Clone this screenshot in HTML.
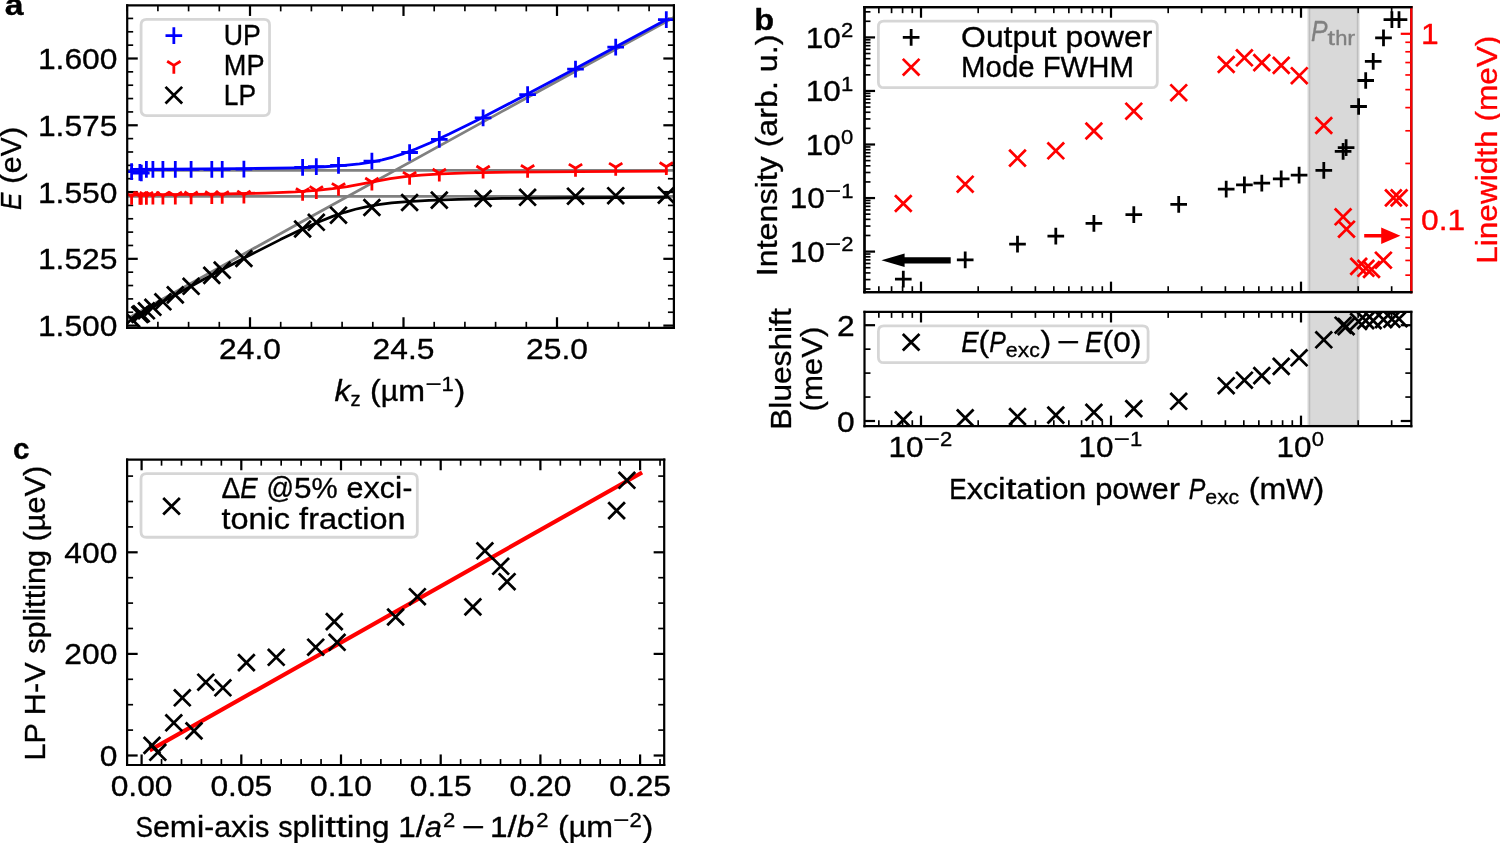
<!DOCTYPE html>
<html><head><meta charset="utf-8"><title>Figure</title>
<style>html,body{margin:0;padding:0;background:#fff;width:1500px;height:843px;overflow:hidden}svg{display:block;will-change:transform}text{font-family:"Liberation Sans",sans-serif;stroke:currentColor;stroke-width:0.12px}</style>
</head><body>
<svg width="1500" height="843" viewBox="0 0 540 303.48" version="1.1">
<defs>
<style type="text/css">*{stroke-linejoin: round; stroke-linecap: butt}</style>
</defs>
<g id="figure_1">
<g id="patch_1">
<path d="M 0 303.48 L 540 303.48 L 540 0 L 0 0 z
" style="fill: #ffffff; color: #ffffff"/>
</g>
<g id="axes_1">
<g id="patch_2">
<path d="M 45.792 118.008 L 242.604 118.008 L 242.604 1.944 L 45.792 1.944 z
" style="fill: #ffffff; color: #ffffff"/>
</g>
<g id="matplotlib.axis_1">
<g id="xtick_1">
<g id="line2d_1">
<defs>
<path id="m2b4970a3c0" d="M 0 0 L 0 -3.8 " style="stroke: #000000; stroke-width: 0.8"/>
</defs>
<g>
<use href="#m2b4970a3c0" x="90" y="118.008" style="stroke: #000000; stroke-width: 0.8"/>
</g>
</g>
<g id="line2d_2">
<defs>
<path id="m33ad5a67c3" d="M 0 0 L 0 3.8 " style="stroke: #000000; stroke-width: 0.8"/>
</defs>
<g>
<use href="#m33ad5a67c3" x="90" y="1.944" style="stroke: #000000; stroke-width: 0.8"/>
</g>
</g>
<g id="text_1">
<text style="font-size: 10.500px; font-family: 'Liberation Sans'; text-anchor: middle" textLength="22.266" lengthAdjust="spacingAndGlyphs" x="90" y="129.106437" transform="rotate(-0 90 129.106437)">24.0</text>
</g>
</g>
<g id="xtick_2">
<g id="line2d_3">
<g>
<use href="#m2b4970a3c0" x="145.26" y="118.008" style="stroke: #000000; stroke-width: 0.8"/>
</g>
</g>
<g id="line2d_4">
<g>
<use href="#m33ad5a67c3" x="145.26" y="1.944" style="stroke: #000000; stroke-width: 0.8"/>
</g>
</g>
<g id="text_2">
<text style="font-size: 10.500px; font-family: 'Liberation Sans'; text-anchor: middle" textLength="22.266" lengthAdjust="spacingAndGlyphs" x="145.26" y="129.106437" transform="rotate(-0 145.26 129.106437)">24.5</text>
</g>
</g>
<g id="xtick_3">
<g id="line2d_5">
<g>
<use href="#m2b4970a3c0" x="200.52" y="118.008" style="stroke: #000000; stroke-width: 0.8"/>
</g>
</g>
<g id="line2d_6">
<g>
<use href="#m33ad5a67c3" x="200.52" y="1.944" style="stroke: #000000; stroke-width: 0.8"/>
</g>
</g>
<g id="text_3">
<text style="font-size: 10.500px; font-family: 'Liberation Sans'; text-anchor: middle" textLength="22.266" lengthAdjust="spacingAndGlyphs" x="200.52" y="129.106437" transform="rotate(-0 200.52 129.106437)">25.0</text>
</g>
</g>
<g id="xtick_4">
<g id="line2d_7">
<defs>
<path id="mdb4b7853e7" d="M 0 0 L 0 -2.15 " style="stroke: #000000; stroke-width: 0.6"/>
</defs>
<g>
<use href="#mdb4b7853e7" x="45.792" y="118.008" style="stroke: #000000; stroke-width: 0.6"/>
</g>
</g>
<g id="line2d_8">
<defs>
<path id="m0a208b328b" d="M 0 0 L 0 2.15 " style="stroke: #000000; stroke-width: 0.6"/>
</defs>
<g>
<use href="#m0a208b328b" x="45.792" y="1.944" style="stroke: #000000; stroke-width: 0.6"/>
</g>
</g>
</g>
<g id="xtick_5">
<g id="line2d_9">
<g>
<use href="#mdb4b7853e7" x="56.844" y="118.008" style="stroke: #000000; stroke-width: 0.6"/>
</g>
</g>
<g id="line2d_10">
<g>
<use href="#m0a208b328b" x="56.844" y="1.944" style="stroke: #000000; stroke-width: 0.6"/>
</g>
</g>
</g>
<g id="xtick_6">
<g id="line2d_11">
<g>
<use href="#mdb4b7853e7" x="67.896" y="118.008" style="stroke: #000000; stroke-width: 0.6"/>
</g>
</g>
<g id="line2d_12">
<g>
<use href="#m0a208b328b" x="67.896" y="1.944" style="stroke: #000000; stroke-width: 0.6"/>
</g>
</g>
</g>
<g id="xtick_7">
<g id="line2d_13">
<g>
<use href="#mdb4b7853e7" x="78.948" y="118.008" style="stroke: #000000; stroke-width: 0.6"/>
</g>
</g>
<g id="line2d_14">
<g>
<use href="#m0a208b328b" x="78.948" y="1.944" style="stroke: #000000; stroke-width: 0.6"/>
</g>
</g>
</g>
<g id="xtick_8">
<g id="line2d_15">
<g>
<use href="#mdb4b7853e7" x="101.052" y="118.008" style="stroke: #000000; stroke-width: 0.6"/>
</g>
</g>
<g id="line2d_16">
<g>
<use href="#m0a208b328b" x="101.052" y="1.944" style="stroke: #000000; stroke-width: 0.6"/>
</g>
</g>
</g>
<g id="xtick_9">
<g id="line2d_17">
<g>
<use href="#mdb4b7853e7" x="112.104" y="118.008" style="stroke: #000000; stroke-width: 0.6"/>
</g>
</g>
<g id="line2d_18">
<g>
<use href="#m0a208b328b" x="112.104" y="1.944" style="stroke: #000000; stroke-width: 0.6"/>
</g>
</g>
</g>
<g id="xtick_10">
<g id="line2d_19">
<g>
<use href="#mdb4b7853e7" x="123.156" y="118.008" style="stroke: #000000; stroke-width: 0.6"/>
</g>
</g>
<g id="line2d_20">
<g>
<use href="#m0a208b328b" x="123.156" y="1.944" style="stroke: #000000; stroke-width: 0.6"/>
</g>
</g>
</g>
<g id="xtick_11">
<g id="line2d_21">
<g>
<use href="#mdb4b7853e7" x="134.208" y="118.008" style="stroke: #000000; stroke-width: 0.6"/>
</g>
</g>
<g id="line2d_22">
<g>
<use href="#m0a208b328b" x="134.208" y="1.944" style="stroke: #000000; stroke-width: 0.6"/>
</g>
</g>
</g>
<g id="xtick_12">
<g id="line2d_23">
<g>
<use href="#mdb4b7853e7" x="156.312" y="118.008" style="stroke: #000000; stroke-width: 0.6"/>
</g>
</g>
<g id="line2d_24">
<g>
<use href="#m0a208b328b" x="156.312" y="1.944" style="stroke: #000000; stroke-width: 0.6"/>
</g>
</g>
</g>
<g id="xtick_13">
<g id="line2d_25">
<g>
<use href="#mdb4b7853e7" x="167.364" y="118.008" style="stroke: #000000; stroke-width: 0.6"/>
</g>
</g>
<g id="line2d_26">
<g>
<use href="#m0a208b328b" x="167.364" y="1.944" style="stroke: #000000; stroke-width: 0.6"/>
</g>
</g>
</g>
<g id="xtick_14">
<g id="line2d_27">
<g>
<use href="#mdb4b7853e7" x="178.416" y="118.008" style="stroke: #000000; stroke-width: 0.6"/>
</g>
</g>
<g id="line2d_28">
<g>
<use href="#m0a208b328b" x="178.416" y="1.944" style="stroke: #000000; stroke-width: 0.6"/>
</g>
</g>
</g>
<g id="xtick_15">
<g id="line2d_29">
<g>
<use href="#mdb4b7853e7" x="189.468" y="118.008" style="stroke: #000000; stroke-width: 0.6"/>
</g>
</g>
<g id="line2d_30">
<g>
<use href="#m0a208b328b" x="189.468" y="1.944" style="stroke: #000000; stroke-width: 0.6"/>
</g>
</g>
</g>
<g id="xtick_16">
<g id="line2d_31">
<g>
<use href="#mdb4b7853e7" x="211.572" y="118.008" style="stroke: #000000; stroke-width: 0.6"/>
</g>
</g>
<g id="line2d_32">
<g>
<use href="#m0a208b328b" x="211.572" y="1.944" style="stroke: #000000; stroke-width: 0.6"/>
</g>
</g>
</g>
<g id="xtick_17">
<g id="line2d_33">
<g>
<use href="#mdb4b7853e7" x="222.624" y="118.008" style="stroke: #000000; stroke-width: 0.6"/>
</g>
</g>
<g id="line2d_34">
<g>
<use href="#m0a208b328b" x="222.624" y="1.944" style="stroke: #000000; stroke-width: 0.6"/>
</g>
</g>
</g>
<g id="xtick_18">
<g id="line2d_35">
<g>
<use href="#mdb4b7853e7" x="233.676" y="118.008" style="stroke: #000000; stroke-width: 0.6"/>
</g>
</g>
<g id="line2d_36">
<g>
<use href="#m0a208b328b" x="233.676" y="1.944" style="stroke: #000000; stroke-width: 0.6"/>
</g>
</g>
</g>
<g id="xlab_a" transform="translate(0.000 0.000)">
<g transform="translate(120.438 144.546125) scale(0.9910 1)">
<text>
<tspan x="0" y="-0.068438" style="font-style: italic; font-size: 10.500px; font-family: 'Liberation Sans'" textLength="5.791" lengthAdjust="spacingAndGlyphs">k</tspan>
<tspan x="5.791016" y="1.572187" style="font-size: 7.350px; font-family: 'Liberation Sans'" textLength="3.674" lengthAdjust="spacingAndGlyphs">z</tspan>
<tspan x="33.018066" y="-3.896563" style="font-size: 7.350px; font-family: 'Liberation Sans'" textLength="5.865" lengthAdjust="spacingAndGlyphs">−</tspan>
<tspan x="38.883301" y="-3.896563" style="font-size: 7.350px; font-family: 'Liberation Sans'" textLength="4.454" lengthAdjust="spacingAndGlyphs">1</tspan>
<tspan x="9.73877" y="-0.068438" style="font-size: 10.500px; font-family: 'Liberation Sans'"> </tspan>
<tspan x="12.91748" y="-0.068438" style="font-size: 10.500px; font-family: 'Liberation Sans'" textLength="3.901" lengthAdjust="spacingAndGlyphs">(</tspan>
<tspan x="16.818848" y="-0.068438" style="font-size: 10.500px; font-family: 'Liberation Sans'" textLength="6.362" lengthAdjust="spacingAndGlyphs">µ</tspan>
<tspan x="23.181152" y="-0.068438" style="font-size: 10.500px; font-family: 'Liberation Sans'" textLength="9.741" lengthAdjust="spacingAndGlyphs">m</tspan>
<tspan x="43.610352" y="-0.068438" style="font-size: 10.500px; font-family: 'Liberation Sans'" textLength="3.901" lengthAdjust="spacingAndGlyphs">)</tspan>
</text>
</g>
</g>
</g>
<g id="matplotlib.axis_2">
<g id="ytick_1">
<g id="line2d_37">
<defs>
<path id="m90c7cc0374" d="M 0 0 L 3.8 0 " style="stroke: #000000; stroke-width: 0.8"/>
</defs>
<g>
<use href="#m90c7cc0374" x="45.792" y="117.216" style="stroke: #000000; stroke-width: 0.8"/>
</g>
</g>
<g id="line2d_38">
<defs>
<path id="m5c0d456e2d" d="M 0 0 L -3.8 0 " style="stroke: #000000; stroke-width: 0.8"/>
</defs>
<g>
<use href="#m5c0d456e2d" x="242.604" y="117.216" style="stroke: #000000; stroke-width: 0.8"/>
</g>
</g>
<g id="text_4">
<text style="font-size: 10.500px; font-family: 'Liberation Sans'; text-anchor: end" textLength="28.628" lengthAdjust="spacingAndGlyphs" x="42.292" y="121.015219" transform="rotate(-0 42.292 121.015219)">1.500</text>
</g>
</g>
<g id="ytick_2">
<g id="line2d_39">
<g>
<use href="#m90c7cc0374" x="45.792" y="93.177" style="stroke: #000000; stroke-width: 0.8"/>
</g>
</g>
<g id="line2d_40">
<g>
<use href="#m5c0d456e2d" x="242.604" y="93.177" style="stroke: #000000; stroke-width: 0.8"/>
</g>
</g>
<g id="text_5">
<text style="font-size: 10.500px; font-family: 'Liberation Sans'; text-anchor: end" textLength="28.628" lengthAdjust="spacingAndGlyphs" x="42.292" y="96.976219" transform="rotate(-0 42.292 96.976219)">1.525</text>
</g>
</g>
<g id="ytick_3">
<g id="line2d_41">
<g>
<use href="#m90c7cc0374" x="45.792" y="69.138" style="stroke: #000000; stroke-width: 0.8"/>
</g>
</g>
<g id="line2d_42">
<g>
<use href="#m5c0d456e2d" x="242.604" y="69.138" style="stroke: #000000; stroke-width: 0.8"/>
</g>
</g>
<g id="text_6">
<text style="font-size: 10.500px; font-family: 'Liberation Sans'; text-anchor: end" textLength="28.628" lengthAdjust="spacingAndGlyphs" x="42.292" y="72.937219" transform="rotate(-0 42.292 72.937219)">1.550</text>
</g>
</g>
<g id="ytick_4">
<g id="line2d_43">
<g>
<use href="#m90c7cc0374" x="45.792" y="45.099" style="stroke: #000000; stroke-width: 0.8"/>
</g>
</g>
<g id="line2d_44">
<g>
<use href="#m5c0d456e2d" x="242.604" y="45.099" style="stroke: #000000; stroke-width: 0.8"/>
</g>
</g>
<g id="text_7">
<text style="font-size: 10.500px; font-family: 'Liberation Sans'; text-anchor: end" textLength="28.628" lengthAdjust="spacingAndGlyphs" x="42.292" y="48.898219" transform="rotate(-0 42.292 48.898219)">1.575</text>
</g>
</g>
<g id="ytick_5">
<g id="line2d_45">
<g>
<use href="#m90c7cc0374" x="45.792" y="21.06" style="stroke: #000000; stroke-width: 0.8"/>
</g>
</g>
<g id="line2d_46">
<g>
<use href="#m5c0d456e2d" x="242.604" y="21.06" style="stroke: #000000; stroke-width: 0.8"/>
</g>
</g>
<g id="text_8">
<text style="font-size: 10.500px; font-family: 'Liberation Sans'; text-anchor: end" textLength="28.628" lengthAdjust="spacingAndGlyphs" x="42.292" y="24.859219" transform="rotate(-0 42.292 24.859219)">1.600</text>
</g>
</g>
<g id="ytick_6">
<g id="line2d_47">
<defs>
<path id="m56da8a8c78" d="M 0 0 L 2.15 0 " style="stroke: #000000; stroke-width: 0.6"/>
</defs>
<g>
<use href="#m56da8a8c78" x="45.792" y="112.4082" style="stroke: #000000; stroke-width: 0.6"/>
</g>
</g>
<g id="line2d_48">
<defs>
<path id="m1119887b76" d="M 0 0 L -2.15 0 " style="stroke: #000000; stroke-width: 0.6"/>
</defs>
<g>
<use href="#m1119887b76" x="242.604" y="112.4082" style="stroke: #000000; stroke-width: 0.6"/>
</g>
</g>
</g>
<g id="ytick_7">
<g id="line2d_49">
<g>
<use href="#m56da8a8c78" x="45.792" y="107.6004" style="stroke: #000000; stroke-width: 0.6"/>
</g>
</g>
<g id="line2d_50">
<g>
<use href="#m1119887b76" x="242.604" y="107.6004" style="stroke: #000000; stroke-width: 0.6"/>
</g>
</g>
</g>
<g id="ytick_8">
<g id="line2d_51">
<g>
<use href="#m56da8a8c78" x="45.792" y="102.7926" style="stroke: #000000; stroke-width: 0.6"/>
</g>
</g>
<g id="line2d_52">
<g>
<use href="#m1119887b76" x="242.604" y="102.7926" style="stroke: #000000; stroke-width: 0.6"/>
</g>
</g>
</g>
<g id="ytick_9">
<g id="line2d_53">
<g>
<use href="#m56da8a8c78" x="45.792" y="97.9848" style="stroke: #000000; stroke-width: 0.6"/>
</g>
</g>
<g id="line2d_54">
<g>
<use href="#m1119887b76" x="242.604" y="97.9848" style="stroke: #000000; stroke-width: 0.6"/>
</g>
</g>
</g>
<g id="ytick_10">
<g id="line2d_55">
<g>
<use href="#m56da8a8c78" x="45.792" y="88.3692" style="stroke: #000000; stroke-width: 0.6"/>
</g>
</g>
<g id="line2d_56">
<g>
<use href="#m1119887b76" x="242.604" y="88.3692" style="stroke: #000000; stroke-width: 0.6"/>
</g>
</g>
</g>
<g id="ytick_11">
<g id="line2d_57">
<g>
<use href="#m56da8a8c78" x="45.792" y="83.5614" style="stroke: #000000; stroke-width: 0.6"/>
</g>
</g>
<g id="line2d_58">
<g>
<use href="#m1119887b76" x="242.604" y="83.5614" style="stroke: #000000; stroke-width: 0.6"/>
</g>
</g>
</g>
<g id="ytick_12">
<g id="line2d_59">
<g>
<use href="#m56da8a8c78" x="45.792" y="78.7536" style="stroke: #000000; stroke-width: 0.6"/>
</g>
</g>
<g id="line2d_60">
<g>
<use href="#m1119887b76" x="242.604" y="78.7536" style="stroke: #000000; stroke-width: 0.6"/>
</g>
</g>
</g>
<g id="ytick_13">
<g id="line2d_61">
<g>
<use href="#m56da8a8c78" x="45.792" y="73.9458" style="stroke: #000000; stroke-width: 0.6"/>
</g>
</g>
<g id="line2d_62">
<g>
<use href="#m1119887b76" x="242.604" y="73.9458" style="stroke: #000000; stroke-width: 0.6"/>
</g>
</g>
</g>
<g id="ytick_14">
<g id="line2d_63">
<g>
<use href="#m56da8a8c78" x="45.792" y="64.3302" style="stroke: #000000; stroke-width: 0.6"/>
</g>
</g>
<g id="line2d_64">
<g>
<use href="#m1119887b76" x="242.604" y="64.3302" style="stroke: #000000; stroke-width: 0.6"/>
</g>
</g>
</g>
<g id="ytick_15">
<g id="line2d_65">
<g>
<use href="#m56da8a8c78" x="45.792" y="59.5224" style="stroke: #000000; stroke-width: 0.6"/>
</g>
</g>
<g id="line2d_66">
<g>
<use href="#m1119887b76" x="242.604" y="59.5224" style="stroke: #000000; stroke-width: 0.6"/>
</g>
</g>
</g>
<g id="ytick_16">
<g id="line2d_67">
<g>
<use href="#m56da8a8c78" x="45.792" y="54.7146" style="stroke: #000000; stroke-width: 0.6"/>
</g>
</g>
<g id="line2d_68">
<g>
<use href="#m1119887b76" x="242.604" y="54.7146" style="stroke: #000000; stroke-width: 0.6"/>
</g>
</g>
</g>
<g id="ytick_17">
<g id="line2d_69">
<g>
<use href="#m56da8a8c78" x="45.792" y="49.9068" style="stroke: #000000; stroke-width: 0.6"/>
</g>
</g>
<g id="line2d_70">
<g>
<use href="#m1119887b76" x="242.604" y="49.9068" style="stroke: #000000; stroke-width: 0.6"/>
</g>
</g>
</g>
<g id="ytick_18">
<g id="line2d_71">
<g>
<use href="#m56da8a8c78" x="45.792" y="40.2912" style="stroke: #000000; stroke-width: 0.6"/>
</g>
</g>
<g id="line2d_72">
<g>
<use href="#m1119887b76" x="242.604" y="40.2912" style="stroke: #000000; stroke-width: 0.6"/>
</g>
</g>
</g>
<g id="ytick_19">
<g id="line2d_73">
<g>
<use href="#m56da8a8c78" x="45.792" y="35.4834" style="stroke: #000000; stroke-width: 0.6"/>
</g>
</g>
<g id="line2d_74">
<g>
<use href="#m1119887b76" x="242.604" y="35.4834" style="stroke: #000000; stroke-width: 0.6"/>
</g>
</g>
</g>
<g id="ytick_20">
<g id="line2d_75">
<g>
<use href="#m56da8a8c78" x="45.792" y="30.6756" style="stroke: #000000; stroke-width: 0.6"/>
</g>
</g>
<g id="line2d_76">
<g>
<use href="#m1119887b76" x="242.604" y="30.6756" style="stroke: #000000; stroke-width: 0.6"/>
</g>
</g>
</g>
<g id="ytick_21">
<g id="line2d_77">
<g>
<use href="#m56da8a8c78" x="45.792" y="25.8678" style="stroke: #000000; stroke-width: 0.6"/>
</g>
</g>
<g id="line2d_78">
<g>
<use href="#m1119887b76" x="242.604" y="25.8678" style="stroke: #000000; stroke-width: 0.6"/>
</g>
</g>
</g>
<g id="ytick_22">
<g id="line2d_79">
<g>
<use href="#m56da8a8c78" x="45.792" y="16.2522" style="stroke: #000000; stroke-width: 0.6"/>
</g>
</g>
<g id="line2d_80">
<g>
<use href="#m1119887b76" x="242.604" y="16.2522" style="stroke: #000000; stroke-width: 0.6"/>
</g>
</g>
</g>
<g id="ytick_23">
<g id="line2d_81">
<g>
<use href="#m56da8a8c78" x="45.792" y="11.4444" style="stroke: #000000; stroke-width: 0.6"/>
</g>
</g>
<g id="line2d_82">
<g>
<use href="#m1119887b76" x="242.604" y="11.4444" style="stroke: #000000; stroke-width: 0.6"/>
</g>
</g>
</g>
<g id="ytick_24">
<g id="line2d_83">
<g>
<use href="#m56da8a8c78" x="45.792" y="6.6366" style="stroke: #000000; stroke-width: 0.6"/>
</g>
</g>
<g id="line2d_84">
<g>
<use href="#m1119887b76" x="242.604" y="6.6366" style="stroke: #000000; stroke-width: 0.6"/>
</g>
</g>
</g>
<g id="ylab_a" transform="translate(0.000 0.360)">
<g transform="translate(7.584187 75.276) rotate(-90) scale(0.9910 1)">
<text>
<tspan x="0" y="-0.0125" style="font-style: italic; font-size: 10.500px; font-family: 'Liberation Sans'" textLength="6.318" lengthAdjust="spacingAndGlyphs">E</tspan>
<tspan x="6.318359" y="-0.0125" style="font-size: 10.500px; font-family: 'Liberation Sans'"> </tspan>
<tspan x="9.49707" y="-0.0125" style="font-size: 10.500px; font-family: 'Liberation Sans'" textLength="3.901" lengthAdjust="spacingAndGlyphs">(</tspan>
<tspan x="13.398438" y="-0.0125" style="font-size: 10.500px; font-family: 'Liberation Sans'" textLength="6.152" lengthAdjust="spacingAndGlyphs">e</tspan>
<tspan x="19.550781" y="-0.0125" style="font-size: 10.500px; font-family: 'Liberation Sans'" textLength="6.841" lengthAdjust="spacingAndGlyphs">V</tspan>
<tspan x="26.391602" y="-0.0125" style="font-size: 10.500px; font-family: 'Liberation Sans'" textLength="3.901" lengthAdjust="spacingAndGlyphs">)</tspan>
</text>
</g>
</g>
</g>
<g id="line2d_85">
<path d="M 45.792 114.70382 L 113.369053 77.222195 L 180.946105 39.996219 L 242.604 6.253952 L 242.604 6.253952 " clip-path="url(#p38f2d5e0b5)" style="fill: none; stroke: #808080; stroke-linecap: square"/>
</g>
<g id="line2d_86">
<path d="M 45.792 61.326 L 242.604 61.326 " clip-path="url(#p38f2d5e0b5)" style="fill: none; stroke: #808080; stroke-linecap: square"/>
</g>
<g id="line2d_87">
<path d="M 45.792 70.668 L 242.604 70.668 " clip-path="url(#p38f2d5e0b5)" style="fill: none; stroke: #808080; stroke-linecap: square"/>
</g>
<g id="line2d_88">
<path d="M 47.376 60.988989 L 87.418195 60.730166 L 106.233203 60.407631 L 116.846797 60.028611 L 124.083338 59.566068 L 129.390135 59.020406 L 133.73206 58.364208 L 137.591549 57.567059 L 141.451038 56.538877 L 145.310526 55.283185 L 149.652451 53.638198 L 154.959248 51.377546 L 161.713353 48.238306 L 170.879639 43.705639 L 183.905414 36.988984 L 204.167729 26.259407 L 239.868 7.070971 L 239.868 7.070971 " clip-path="url(#p38f2d5e0b5)" style="fill: none; stroke: #0000ff; stroke-linecap: square"/>
</g>
<g id="line2d_89">
<path d="M 47.376 70.16246 L 78.734346 69.860336 L 95.619609 69.49404 L 106.233203 69.057574 L 113.95218 68.522368 L 119.741414 67.914042 L 125.048211 67.146805 L 131.31988 66.003462 L 140.486165 64.314927 L 145.792962 63.58862 L 151.582195 63.039927 L 158.818737 62.604002 L 168.467459 62.26264 L 183.422977 61.980067 L 208.509654 61.756924 L 239.868 61.627315 L 239.868 61.627315 " clip-path="url(#p38f2d5e0b5)" style="fill: none; stroke: #ff0000; stroke-linecap: square"/>
</g>
<g id="line2d_90">
<path d="M 47.376 114.66488 L 73.427549 100.54955 L 89.830376 91.891032 L 100.926406 86.263749 L 108.645383 82.570361 L 114.917053 79.807895 L 119.741414 77.908866 L 124.083338 76.428945 L 127.942827 75.329808 L 131.802316 74.443128 L 136.144241 73.67857 L 140.968602 73.062078 L 146.757835 72.550927 L 154.476812 72.109551 L 165.090406 71.7446 L 181.010797 71.441316 L 207.062346 71.194215 L 239.868 71.04243 L 239.868 71.04243 " clip-path="url(#p38f2d5e0b5)" style="fill: none; stroke: #000000; stroke-linecap: square"/>
</g>
<g id="line2d_91">
<defs>
<path id="mb867c7d9d2" d="M -3 0 L 3 0 M 0 3 L 0 -3 " style="stroke: #0000ff"/>
</defs>
<g clip-path="url(#p38f2d5e0b5)">
<use href="#mb867c7d9d2" x="47.376" y="61.776" style="fill: #0000ff; stroke: #0000ff; color: #0000ff"/>
<use href="#mb867c7d9d2" x="50.364" y="62.064" style="fill: #0000ff; stroke: #0000ff; color: #0000ff"/>
<use href="#mb867c7d9d2" x="50.868" y="62.28" style="fill: #0000ff; stroke: #0000ff; color: #0000ff"/>
<use href="#mb867c7d9d2" x="52.704" y="60.948" style="fill: #0000ff; stroke: #0000ff; color: #0000ff"/>
<use href="#mb867c7d9d2" x="55.044" y="60.984" style="fill: #0000ff; stroke: #0000ff; color: #0000ff"/>
<use href="#mb867c7d9d2" x="58.644" y="60.984" style="fill: #0000ff; stroke: #0000ff; color: #0000ff"/>
<use href="#mb867c7d9d2" x="63.108" y="60.984" style="fill: #0000ff; stroke: #0000ff; color: #0000ff"/>
<use href="#mb867c7d9d2" x="68.796" y="60.984" style="fill: #0000ff; stroke: #0000ff; color: #0000ff"/>
<use href="#mb867c7d9d2" x="76.248" y="60.984" style="fill: #0000ff; stroke: #0000ff; color: #0000ff"/>
<use href="#mb867c7d9d2" x="79.992" y="60.948" style="fill: #0000ff; stroke: #0000ff; color: #0000ff"/>
<use href="#mb867c7d9d2" x="87.804" y="60.912" style="fill: #0000ff; stroke: #0000ff; color: #0000ff"/>
<use href="#mb867c7d9d2" x="108.936" y="60.264" style="fill: #0000ff; stroke: #0000ff; color: #0000ff"/>
<use href="#mb867c7d9d2" x="113.868" y="59.976" style="fill: #0000ff; stroke: #0000ff; color: #0000ff"/>
<use href="#mb867c7d9d2" x="121.86" y="59.544" style="fill: #0000ff; stroke: #0000ff; color: #0000ff"/>
<use href="#mb867c7d9d2" x="133.884" y="58.032" style="fill: #0000ff; stroke: #0000ff; color: #0000ff"/>
<use href="#mb867c7d9d2" x="147.456" y="54.9" style="fill: #0000ff; stroke: #0000ff; color: #0000ff"/>
<use href="#mb867c7d9d2" x="158.148" y="50.184" style="fill: #0000ff; stroke: #0000ff; color: #0000ff"/>
<use href="#mb867c7d9d2" x="173.916" y="42.444" style="fill: #0000ff; stroke: #0000ff; color: #0000ff"/>
<use href="#mb867c7d9d2" x="189.936" y="34.056" style="fill: #0000ff; stroke: #0000ff; color: #0000ff"/>
<use href="#mb867c7d9d2" x="207.18" y="24.912" style="fill: #0000ff; stroke: #0000ff; color: #0000ff"/>
<use href="#mb867c7d9d2" x="221.652" y="16.956" style="fill: #0000ff; stroke: #0000ff; color: #0000ff"/>
<use href="#mb867c7d9d2" x="239.868" y="7.056" style="fill: #0000ff; stroke: #0000ff; color: #0000ff"/>
</g>
</g>
<g id="line2d_92">
<defs>
<path id="mb16a404aa3" d="M 0 0 L 0 3 M 0 0 L 2.4 -1.5 M 0 0 L -2.4 -1.5 " style="stroke: #ff0000"/>
</defs>
<g clip-path="url(#p38f2d5e0b5)">
<use href="#mb16a404aa3" x="47.376" y="70.70246" style="fill: #ff0000; stroke: #ff0000; color: #ff0000"/>
<use href="#mb16a404aa3" x="50.364" y="70.683599" style="fill: #ff0000; stroke: #ff0000; color: #ff0000"/>
<use href="#mb16a404aa3" x="50.868" y="70.680281" style="fill: #ff0000; stroke: #ff0000; color: #ff0000"/>
<use href="#mb16a404aa3" x="52.704" y="70.667837" style="fill: #ff0000; stroke: #ff0000; color: #ff0000"/>
<use href="#mb16a404aa3" x="55.044" y="70.651117" style="fill: #ff0000; stroke: #ff0000; color: #ff0000"/>
<use href="#mb16a404aa3" x="58.644" y="70.62332" style="fill: #ff0000; stroke: #ff0000; color: #ff0000"/>
<use href="#mb16a404aa3" x="63.108" y="70.584844" style="fill: #ff0000; stroke: #ff0000; color: #ff0000"/>
<use href="#mb16a404aa3" x="68.796" y="70.528035" style="fill: #ff0000; stroke: #ff0000; color: #ff0000"/>
<use href="#mb16a404aa3" x="76.248" y="70.436433" style="fill: #ff0000; stroke: #ff0000; color: #ff0000"/>
<use href="#mb16a404aa3" x="79.992" y="70.380811" style="fill: #ff0000; stroke: #ff0000; color: #ff0000"/>
<use href="#mb16a404aa3" x="87.804" y="70.235953" style="fill: #ff0000; stroke: #ff0000; color: #ff0000"/>
<use href="#mb16a404aa3" x="108.936" y="69.3" style="fill: #ff0000; stroke: #ff0000; color: #ff0000"/>
<use href="#mb16a404aa3" x="113.868" y="68.616" style="fill: #ff0000; stroke: #ff0000; color: #ff0000"/>
<use href="#mb16a404aa3" x="121.86" y="67.5" style="fill: #ff0000; stroke: #ff0000; color: #ff0000"/>
<use href="#mb16a404aa3" x="133.884" y="65.592" style="fill: #ff0000; stroke: #ff0000; color: #ff0000"/>
<use href="#mb16a404aa3" x="147.456" y="63.468" style="fill: #ff0000; stroke: #ff0000; color: #ff0000"/>
<use href="#mb16a404aa3" x="158.148" y="62.352" style="fill: #ff0000; stroke: #ff0000; color: #ff0000"/>
<use href="#mb16a404aa3" x="173.916" y="61.272" style="fill: #ff0000; stroke: #ff0000; color: #ff0000"/>
<use href="#mb16a404aa3" x="189.936" y="60.984" style="fill: #ff0000; stroke: #ff0000; color: #ff0000"/>
<use href="#mb16a404aa3" x="207.18" y="60.588" style="fill: #ff0000; stroke: #ff0000; color: #ff0000"/>
<use href="#mb16a404aa3" x="221.652" y="60.228" style="fill: #ff0000; stroke: #ff0000; color: #ff0000"/>
<use href="#mb16a404aa3" x="239.868" y="60.012" style="fill: #ff0000; stroke: #ff0000; color: #ff0000"/>
</g>
</g>
<g id="line2d_93">
<defs>
<path id="m25b837ac0a" d="M -3 3 L 3 -3 M -3 -3 L 3 3 " style="stroke: #000000"/>
</defs>
<g clip-path="url(#p38f2d5e0b5)">
<use href="#m25b837ac0a" x="47.376" y="114.84" style="stroke: #000000"/>
<use href="#m25b837ac0a" x="50.364" y="113.22" style="stroke: #000000"/>
<use href="#m25b837ac0a" x="50.868" y="112.968" style="stroke: #000000"/>
<use href="#m25b837ac0a" x="52.704" y="111.888" style="stroke: #000000"/>
<use href="#m25b837ac0a" x="55.044" y="110.628" style="stroke: #000000"/>
<use href="#m25b837ac0a" x="58.644" y="108.648" style="stroke: #000000"/>
<use href="#m25b837ac0a" x="63.108" y="106.164" style="stroke: #000000"/>
<use href="#m25b837ac0a" x="68.796" y="103.068" style="stroke: #000000"/>
<use href="#m25b837ac0a" x="76.248" y="99.144" style="stroke: #000000"/>
<use href="#m25b837ac0a" x="79.992" y="97.236" style="stroke: #000000"/>
<use href="#m25b837ac0a" x="87.804" y="93.06" style="stroke: #000000"/>
<use href="#m25b837ac0a" x="108.936" y="82.44" style="stroke: #000000"/>
<use href="#m25b837ac0a" x="113.868" y="80.028" style="stroke: #000000"/>
<use href="#m25b837ac0a" x="121.86" y="77.472" style="stroke: #000000"/>
<use href="#m25b837ac0a" x="133.884" y="74.7" style="stroke: #000000"/>
<use href="#m25b837ac0a" x="147.456" y="72.9" style="stroke: #000000"/>
<use href="#m25b837ac0a" x="158.148" y="72.036" style="stroke: #000000"/>
<use href="#m25b837ac0a" x="173.916" y="71.46" style="stroke: #000000"/>
<use href="#m25b837ac0a" x="189.936" y="71.028" style="stroke: #000000"/>
<use href="#m25b837ac0a" x="207.18" y="70.632" style="stroke: #000000"/>
<use href="#m25b837ac0a" x="221.652" y="70.452" style="stroke: #000000"/>
<use href="#m25b837ac0a" x="239.868" y="70.272" style="stroke: #000000"/>
</g>
</g>
<g id="patch_3">
<path d="M 45.792 118.008 L 45.792 1.944 " style="fill: none; stroke: #000000; stroke-width: 0.8; stroke-linejoin: miter; stroke-linecap: square"/>
</g>
<g id="patch_4">
<path d="M 242.604 118.008 L 242.604 1.944 " style="fill: none; stroke: #000000; stroke-width: 0.8; stroke-linejoin: miter; stroke-linecap: square"/>
</g>
<g id="patch_5">
<path d="M 45.792 118.008 L 242.604 118.008 " style="fill: none; stroke: #000000; stroke-width: 0.8; stroke-linejoin: miter; stroke-linecap: square"/>
</g>
<g id="patch_6">
<path d="M 45.792 1.944 L 242.604 1.944 " style="fill: none; stroke: #000000; stroke-width: 0.8; stroke-linejoin: miter; stroke-linecap: square"/>
</g>
<g id="legend_1">
<g id="patch_7">
<path d="M 52.792 41.638375 L 95.029812 41.638375 Q 97.029812 41.638375 97.029812 39.638375 L 97.029812 8.944 Q 97.029812 6.944 95.029812 6.944 L 52.792 6.944 Q 50.792 6.944 50.792 8.944 L 50.792 39.638375 Q 50.792 41.638375 52.792 41.638375 z
" style="fill: #ffffff; fill-opacity: 0.8; stroke-opacity: 0.8; stroke: #cccccc; stroke-linejoin: miter; color: #ffffff"/>
</g>
<g id="line2d_94">
<g>
<use href="#mb867c7d9d2" x="62.582" y="12.832437" style="fill: #0000ff; stroke: #0000ff; color: #0000ff"/>
</g>
</g>
<g id="text_9">
<text style="font-size: 10.500px; font-family: 'Liberation Sans'; text-anchor: start" textLength="13.350" lengthAdjust="spacingAndGlyphs" x="80.582" y="16.332437" transform="rotate(-0 80.582 16.332437)">UP</text>
</g>
<g id="line2d_95">
<g>
<use href="#mb16a404aa3" x="62.582" y="23.550562" style="fill: #ff0000; stroke: #ff0000; color: #ff0000"/>
</g>
</g>
<g id="text_10">
<text style="font-size: 10.500px; font-family: 'Liberation Sans'; text-anchor: start" textLength="14.658" lengthAdjust="spacingAndGlyphs" x="80.582" y="27.050562" transform="rotate(-0 80.582 27.050562)">MP</text>
</g>
<g id="line2d_96">
<g>
<use href="#m25b837ac0a" x="62.582" y="34.268687" style="stroke: #000000"/>
</g>
</g>
<g id="text_11">
<text style="font-size: 10.500px; font-family: 'Liberation Sans'; text-anchor: start" textLength="11.602" lengthAdjust="spacingAndGlyphs" x="80.582" y="37.768687" transform="rotate(-0 80.582 37.768687)">LP</text>
</g>
</g>
</g>
<g id="axes_2">
<g id="patch_8">
<path d="M 311.22 105.192 L 508.068 105.192 L 508.068 2.592 L 311.22 2.592 z
" style="fill: #ffffff; color: #ffffff"/>
</g>
<g id="patch_9">
<path d="M 471.19126 105.192 L 488.950452 105.192 L 488.950452 2.592 L 471.19126 2.592 z
" clip-path="url(#pccb7312ba0)" style="fill: #808080; fill-opacity: 0.3; stroke-opacity: 0.3; stroke: #808080; stroke-linejoin: miter; color: #808080"/>
</g>
<g id="matplotlib.axis_3">
<g id="xtick_19">
<g id="line2d_97">
<g>
<use href="#m2b4970a3c0" x="331.56" y="105.192" style="stroke: #000000; stroke-width: 0.8"/>
</g>
</g>
<g id="line2d_98">
<g>
<use href="#m33ad5a67c3" x="331.56" y="2.592" style="stroke: #000000; stroke-width: 0.8"/>
</g>
</g>
</g>
<g id="xtick_20">
<g id="line2d_99">
<g>
<use href="#m2b4970a3c0" x="399.96" y="105.192" style="stroke: #000000; stroke-width: 0.8"/>
</g>
</g>
<g id="line2d_100">
<g>
<use href="#m33ad5a67c3" x="399.96" y="2.592" style="stroke: #000000; stroke-width: 0.8"/>
</g>
</g>
</g>
<g id="xtick_21">
<g id="line2d_101">
<g>
<use href="#m2b4970a3c0" x="468.36" y="105.192" style="stroke: #000000; stroke-width: 0.8"/>
</g>
</g>
<g id="line2d_102">
<g>
<use href="#m33ad5a67c3" x="468.36" y="2.592" style="stroke: #000000; stroke-width: 0.8"/>
</g>
</g>
</g>
<g id="xtick_22">
<g id="line2d_103">
<g>
<use href="#mdb4b7853e7" x="316.385546" y="105.192" style="stroke: #000000; stroke-width: 0.6"/>
</g>
</g>
<g id="line2d_104">
<g>
<use href="#m0a208b328b" x="316.385546" y="2.592" style="stroke: #000000; stroke-width: 0.6"/>
</g>
</g>
</g>
<g id="xtick_23">
<g id="line2d_105">
<g>
<use href="#mdb4b7853e7" x="320.964706" y="105.192" style="stroke: #000000; stroke-width: 0.6"/>
</g>
</g>
<g id="line2d_106">
<g>
<use href="#m0a208b328b" x="320.964706" y="2.592" style="stroke: #000000; stroke-width: 0.6"/>
</g>
</g>
</g>
<g id="xtick_24">
<g id="line2d_107">
<g>
<use href="#mdb4b7853e7" x="324.931355" y="105.192" style="stroke: #000000; stroke-width: 0.6"/>
</g>
</g>
<g id="line2d_108">
<g>
<use href="#m0a208b328b" x="324.931355" y="2.592" style="stroke: #000000; stroke-width: 0.6"/>
</g>
</g>
</g>
<g id="xtick_25">
<g id="line2d_109">
<g>
<use href="#mdb4b7853e7" x="328.430188" y="105.192" style="stroke: #000000; stroke-width: 0.6"/>
</g>
</g>
<g id="line2d_110">
<g>
<use href="#m0a208b328b" x="328.430188" y="2.592" style="stroke: #000000; stroke-width: 0.6"/>
</g>
</g>
</g>
<g id="xtick_26">
<g id="line2d_111">
<g>
<use href="#mdb4b7853e7" x="352.150452" y="105.192" style="stroke: #000000; stroke-width: 0.6"/>
</g>
</g>
<g id="line2d_112">
<g>
<use href="#m0a208b328b" x="352.150452" y="2.592" style="stroke: #000000; stroke-width: 0.6"/>
</g>
</g>
</g>
<g id="xtick_27">
<g id="line2d_113">
<g>
<use href="#mdb4b7853e7" x="364.195094" y="105.192" style="stroke: #000000; stroke-width: 0.6"/>
</g>
</g>
<g id="line2d_114">
<g>
<use href="#m0a208b328b" x="364.195094" y="2.592" style="stroke: #000000; stroke-width: 0.6"/>
</g>
</g>
</g>
<g id="xtick_28">
<g id="line2d_115">
<g>
<use href="#mdb4b7853e7" x="372.740903" y="105.192" style="stroke: #000000; stroke-width: 0.6"/>
</g>
</g>
<g id="line2d_116">
<g>
<use href="#m0a208b328b" x="372.740903" y="2.592" style="stroke: #000000; stroke-width: 0.6"/>
</g>
</g>
</g>
<g id="xtick_29">
<g id="line2d_117">
<g>
<use href="#mdb4b7853e7" x="379.369548" y="105.192" style="stroke: #000000; stroke-width: 0.6"/>
</g>
</g>
<g id="line2d_118">
<g>
<use href="#m0a208b328b" x="379.369548" y="2.592" style="stroke: #000000; stroke-width: 0.6"/>
</g>
</g>
</g>
<g id="xtick_30">
<g id="line2d_119">
<g>
<use href="#mdb4b7853e7" x="384.785546" y="105.192" style="stroke: #000000; stroke-width: 0.6"/>
</g>
</g>
<g id="line2d_120">
<g>
<use href="#m0a208b328b" x="384.785546" y="2.592" style="stroke: #000000; stroke-width: 0.6"/>
</g>
</g>
</g>
<g id="xtick_31">
<g id="line2d_121">
<g>
<use href="#mdb4b7853e7" x="389.364706" y="105.192" style="stroke: #000000; stroke-width: 0.6"/>
</g>
</g>
<g id="line2d_122">
<g>
<use href="#m0a208b328b" x="389.364706" y="2.592" style="stroke: #000000; stroke-width: 0.6"/>
</g>
</g>
</g>
<g id="xtick_32">
<g id="line2d_123">
<g>
<use href="#mdb4b7853e7" x="393.331355" y="105.192" style="stroke: #000000; stroke-width: 0.6"/>
</g>
</g>
<g id="line2d_124">
<g>
<use href="#m0a208b328b" x="393.331355" y="2.592" style="stroke: #000000; stroke-width: 0.6"/>
</g>
</g>
</g>
<g id="xtick_33">
<g id="line2d_125">
<g>
<use href="#mdb4b7853e7" x="396.830188" y="105.192" style="stroke: #000000; stroke-width: 0.6"/>
</g>
</g>
<g id="line2d_126">
<g>
<use href="#m0a208b328b" x="396.830188" y="2.592" style="stroke: #000000; stroke-width: 0.6"/>
</g>
</g>
</g>
<g id="xtick_34">
<g id="line2d_127">
<g>
<use href="#mdb4b7853e7" x="420.550452" y="105.192" style="stroke: #000000; stroke-width: 0.6"/>
</g>
</g>
<g id="line2d_128">
<g>
<use href="#m0a208b328b" x="420.550452" y="2.592" style="stroke: #000000; stroke-width: 0.6"/>
</g>
</g>
</g>
<g id="xtick_35">
<g id="line2d_129">
<g>
<use href="#mdb4b7853e7" x="432.595094" y="105.192" style="stroke: #000000; stroke-width: 0.6"/>
</g>
</g>
<g id="line2d_130">
<g>
<use href="#m0a208b328b" x="432.595094" y="2.592" style="stroke: #000000; stroke-width: 0.6"/>
</g>
</g>
</g>
<g id="xtick_36">
<g id="line2d_131">
<g>
<use href="#mdb4b7853e7" x="441.140903" y="105.192" style="stroke: #000000; stroke-width: 0.6"/>
</g>
</g>
<g id="line2d_132">
<g>
<use href="#m0a208b328b" x="441.140903" y="2.592" style="stroke: #000000; stroke-width: 0.6"/>
</g>
</g>
</g>
<g id="xtick_37">
<g id="line2d_133">
<g>
<use href="#mdb4b7853e7" x="447.769548" y="105.192" style="stroke: #000000; stroke-width: 0.6"/>
</g>
</g>
<g id="line2d_134">
<g>
<use href="#m0a208b328b" x="447.769548" y="2.592" style="stroke: #000000; stroke-width: 0.6"/>
</g>
</g>
</g>
<g id="xtick_38">
<g id="line2d_135">
<g>
<use href="#mdb4b7853e7" x="453.185546" y="105.192" style="stroke: #000000; stroke-width: 0.6"/>
</g>
</g>
<g id="line2d_136">
<g>
<use href="#m0a208b328b" x="453.185546" y="2.592" style="stroke: #000000; stroke-width: 0.6"/>
</g>
</g>
</g>
<g id="xtick_39">
<g id="line2d_137">
<g>
<use href="#mdb4b7853e7" x="457.764706" y="105.192" style="stroke: #000000; stroke-width: 0.6"/>
</g>
</g>
<g id="line2d_138">
<g>
<use href="#m0a208b328b" x="457.764706" y="2.592" style="stroke: #000000; stroke-width: 0.6"/>
</g>
</g>
</g>
<g id="xtick_40">
<g id="line2d_139">
<g>
<use href="#mdb4b7853e7" x="461.731355" y="105.192" style="stroke: #000000; stroke-width: 0.6"/>
</g>
</g>
<g id="line2d_140">
<g>
<use href="#m0a208b328b" x="461.731355" y="2.592" style="stroke: #000000; stroke-width: 0.6"/>
</g>
</g>
</g>
<g id="xtick_41">
<g id="line2d_141">
<g>
<use href="#mdb4b7853e7" x="465.230188" y="105.192" style="stroke: #000000; stroke-width: 0.6"/>
</g>
</g>
<g id="line2d_142">
<g>
<use href="#m0a208b328b" x="465.230188" y="2.592" style="stroke: #000000; stroke-width: 0.6"/>
</g>
</g>
</g>
<g id="xtick_42">
<g id="line2d_143">
<g>
<use href="#mdb4b7853e7" x="488.950452" y="105.192" style="stroke: #000000; stroke-width: 0.6"/>
</g>
</g>
<g id="line2d_144">
<g>
<use href="#m0a208b328b" x="488.950452" y="2.592" style="stroke: #000000; stroke-width: 0.6"/>
</g>
</g>
</g>
<g id="xtick_43">
<g id="line2d_145">
<g>
<use href="#mdb4b7853e7" x="500.995094" y="105.192" style="stroke: #000000; stroke-width: 0.6"/>
</g>
</g>
<g id="line2d_146">
<g>
<use href="#m0a208b328b" x="500.995094" y="2.592" style="stroke: #000000; stroke-width: 0.6"/>
</g>
</g>
</g>
</g>
<g id="matplotlib.axis_4">
<g id="ytick_25">
<g id="line2d_147">
<g>
<use href="#m90c7cc0374" x="311.22" y="90.576" style="stroke: #000000; stroke-width: 0.8"/>
</g>
</g>
<g id="text_12">
<g transform="translate(284.32 94.396156) scale(0.9910 1)">
<text>
<tspan x="0" y="-0.076563" style="font-size: 10.500px; font-family: 'Liberation Sans'" textLength="6.362" lengthAdjust="spacingAndGlyphs">1</tspan>
<tspan x="6.362305" y="-0.076563" style="font-size: 10.500px; font-family: 'Liberation Sans'" textLength="6.362" lengthAdjust="spacingAndGlyphs">0</tspan>
<tspan x="12.820312" y="-3.904688" style="font-size: 7.350px; font-family: 'Liberation Sans'" textLength="5.865" lengthAdjust="spacingAndGlyphs">−</tspan>
<tspan x="18.685547" y="-3.904688" style="font-size: 7.350px; font-family: 'Liberation Sans'" textLength="4.454" lengthAdjust="spacingAndGlyphs">2</tspan>
</text>
</g>
</g>
</g>
<g id="ytick_26">
<g id="line2d_148">
<g>
<use href="#m90c7cc0374" x="311.22" y="71.298" style="stroke: #000000; stroke-width: 0.8"/>
</g>
</g>
<g id="text_13">
<g transform="translate(284.32 75.118156) scale(0.9910 1)">
<text>
<tspan x="0" y="-0.068438" style="font-size: 10.500px; font-family: 'Liberation Sans'" textLength="6.362" lengthAdjust="spacingAndGlyphs">1</tspan>
<tspan x="6.362305" y="-0.068438" style="font-size: 10.500px; font-family: 'Liberation Sans'" textLength="6.362" lengthAdjust="spacingAndGlyphs">0</tspan>
<tspan x="12.820312" y="-3.896563" style="font-size: 7.350px; font-family: 'Liberation Sans'" textLength="5.865" lengthAdjust="spacingAndGlyphs">−</tspan>
<tspan x="18.685547" y="-3.896563" style="font-size: 7.350px; font-family: 'Liberation Sans'" textLength="4.454" lengthAdjust="spacingAndGlyphs">1</tspan>
</text>
</g>
</g>
</g>
<g id="ytick_27">
<g id="line2d_149">
<g>
<use href="#m90c7cc0374" x="311.22" y="52.02" style="stroke: #000000; stroke-width: 0.8"/>
</g>
</g>
<g id="text_14">
<g transform="translate(290.08 55.840156) scale(0.9910 1)">
<text>
<tspan x="0" y="-0.076563" style="font-size: 10.500px; font-family: 'Liberation Sans'" textLength="6.362" lengthAdjust="spacingAndGlyphs">1</tspan>
<tspan x="6.362305" y="-0.076563" style="font-size: 10.500px; font-family: 'Liberation Sans'" textLength="6.362" lengthAdjust="spacingAndGlyphs">0</tspan>
<tspan x="12.820312" y="-3.904688" style="font-size: 7.350px; font-family: 'Liberation Sans'" textLength="4.454" lengthAdjust="spacingAndGlyphs">0</tspan>
</text>
</g>
</g>
</g>
<g id="ytick_28">
<g id="line2d_150">
<g>
<use href="#m90c7cc0374" x="311.22" y="32.742" style="stroke: #000000; stroke-width: 0.8"/>
</g>
</g>
<g id="text_15">
<g transform="translate(290.08 36.562156) scale(0.9910 1)">
<text>
<tspan x="0" y="-0.068438" style="font-size: 10.500px; font-family: 'Liberation Sans'" textLength="6.362" lengthAdjust="spacingAndGlyphs">1</tspan>
<tspan x="6.362305" y="-0.068438" style="font-size: 10.500px; font-family: 'Liberation Sans'" textLength="6.362" lengthAdjust="spacingAndGlyphs">0</tspan>
<tspan x="12.820312" y="-3.896563" style="font-size: 7.350px; font-family: 'Liberation Sans'" textLength="4.454" lengthAdjust="spacingAndGlyphs">1</tspan>
</text>
</g>
</g>
</g>
<g id="ytick_29">
<g id="line2d_151">
<g>
<use href="#m90c7cc0374" x="311.22" y="13.464" style="stroke: #000000; stroke-width: 0.8"/>
</g>
</g>
<g id="text_16">
<g transform="translate(290.08 17.284156) scale(0.9910 1)">
<text>
<tspan x="0" y="-0.076563" style="font-size: 10.500px; font-family: 'Liberation Sans'" textLength="6.362" lengthAdjust="spacingAndGlyphs">1</tspan>
<tspan x="6.362305" y="-0.076563" style="font-size: 10.500px; font-family: 'Liberation Sans'" textLength="6.362" lengthAdjust="spacingAndGlyphs">0</tspan>
<tspan x="12.820312" y="-3.904688" style="font-size: 7.350px; font-family: 'Liberation Sans'" textLength="4.454" lengthAdjust="spacingAndGlyphs">2</tspan>
</text>
</g>
</g>
</g>
<g id="ytick_30">
<g id="line2d_152">
<g>
<use href="#m56da8a8c78" x="311.22" y="104.050744" style="stroke: #000000; stroke-width: 0.6"/>
</g>
</g>
</g>
<g id="ytick_31">
<g id="line2d_153">
<g>
<use href="#m56da8a8c78" x="311.22" y="100.656056" style="stroke: #000000; stroke-width: 0.6"/>
</g>
</g>
</g>
<g id="ytick_32">
<g id="line2d_154">
<g>
<use href="#m56da8a8c78" x="311.22" y="98.247487" style="stroke: #000000; stroke-width: 0.6"/>
</g>
</g>
</g>
<g id="ytick_33">
<g id="line2d_155">
<g>
<use href="#m56da8a8c78" x="311.22" y="96.379256" style="stroke: #000000; stroke-width: 0.6"/>
</g>
</g>
</g>
<g id="ytick_34">
<g id="line2d_156">
<g>
<use href="#m56da8a8c78" x="311.22" y="94.8528" style="stroke: #000000; stroke-width: 0.6"/>
</g>
</g>
</g>
<g id="ytick_35">
<g id="line2d_157">
<g>
<use href="#m56da8a8c78" x="311.22" y="93.5622" style="stroke: #000000; stroke-width: 0.6"/>
</g>
</g>
</g>
<g id="ytick_36">
<g id="line2d_158">
<g>
<use href="#m56da8a8c78" x="311.22" y="92.444231" style="stroke: #000000; stroke-width: 0.6"/>
</g>
</g>
</g>
<g id="ytick_37">
<g id="line2d_159">
<g>
<use href="#m56da8a8c78" x="311.22" y="91.458113" style="stroke: #000000; stroke-width: 0.6"/>
</g>
</g>
</g>
<g id="ytick_38">
<g id="line2d_160">
<g>
<use href="#m56da8a8c78" x="311.22" y="84.772744" style="stroke: #000000; stroke-width: 0.6"/>
</g>
</g>
</g>
<g id="ytick_39">
<g id="line2d_161">
<g>
<use href="#m56da8a8c78" x="311.22" y="81.378056" style="stroke: #000000; stroke-width: 0.6"/>
</g>
</g>
</g>
<g id="ytick_40">
<g id="line2d_162">
<g>
<use href="#m56da8a8c78" x="311.22" y="78.969487" style="stroke: #000000; stroke-width: 0.6"/>
</g>
</g>
</g>
<g id="ytick_41">
<g id="line2d_163">
<g>
<use href="#m56da8a8c78" x="311.22" y="77.101256" style="stroke: #000000; stroke-width: 0.6"/>
</g>
</g>
</g>
<g id="ytick_42">
<g id="line2d_164">
<g>
<use href="#m56da8a8c78" x="311.22" y="75.5748" style="stroke: #000000; stroke-width: 0.6"/>
</g>
</g>
</g>
<g id="ytick_43">
<g id="line2d_165">
<g>
<use href="#m56da8a8c78" x="311.22" y="74.2842" style="stroke: #000000; stroke-width: 0.6"/>
</g>
</g>
</g>
<g id="ytick_44">
<g id="line2d_166">
<g>
<use href="#m56da8a8c78" x="311.22" y="73.166231" style="stroke: #000000; stroke-width: 0.6"/>
</g>
</g>
</g>
<g id="ytick_45">
<g id="line2d_167">
<g>
<use href="#m56da8a8c78" x="311.22" y="72.180113" style="stroke: #000000; stroke-width: 0.6"/>
</g>
</g>
</g>
<g id="ytick_46">
<g id="line2d_168">
<g>
<use href="#m56da8a8c78" x="311.22" y="65.494744" style="stroke: #000000; stroke-width: 0.6"/>
</g>
</g>
</g>
<g id="ytick_47">
<g id="line2d_169">
<g>
<use href="#m56da8a8c78" x="311.22" y="62.100056" style="stroke: #000000; stroke-width: 0.6"/>
</g>
</g>
</g>
<g id="ytick_48">
<g id="line2d_170">
<g>
<use href="#m56da8a8c78" x="311.22" y="59.691487" style="stroke: #000000; stroke-width: 0.6"/>
</g>
</g>
</g>
<g id="ytick_49">
<g id="line2d_171">
<g>
<use href="#m56da8a8c78" x="311.22" y="57.823256" style="stroke: #000000; stroke-width: 0.6"/>
</g>
</g>
</g>
<g id="ytick_50">
<g id="line2d_172">
<g>
<use href="#m56da8a8c78" x="311.22" y="56.2968" style="stroke: #000000; stroke-width: 0.6"/>
</g>
</g>
</g>
<g id="ytick_51">
<g id="line2d_173">
<g>
<use href="#m56da8a8c78" x="311.22" y="55.0062" style="stroke: #000000; stroke-width: 0.6"/>
</g>
</g>
</g>
<g id="ytick_52">
<g id="line2d_174">
<g>
<use href="#m56da8a8c78" x="311.22" y="53.888231" style="stroke: #000000; stroke-width: 0.6"/>
</g>
</g>
</g>
<g id="ytick_53">
<g id="line2d_175">
<g>
<use href="#m56da8a8c78" x="311.22" y="52.902113" style="stroke: #000000; stroke-width: 0.6"/>
</g>
</g>
</g>
<g id="ytick_54">
<g id="line2d_176">
<g>
<use href="#m56da8a8c78" x="311.22" y="46.216744" style="stroke: #000000; stroke-width: 0.6"/>
</g>
</g>
</g>
<g id="ytick_55">
<g id="line2d_177">
<g>
<use href="#m56da8a8c78" x="311.22" y="42.822056" style="stroke: #000000; stroke-width: 0.6"/>
</g>
</g>
</g>
<g id="ytick_56">
<g id="line2d_178">
<g>
<use href="#m56da8a8c78" x="311.22" y="40.413487" style="stroke: #000000; stroke-width: 0.6"/>
</g>
</g>
</g>
<g id="ytick_57">
<g id="line2d_179">
<g>
<use href="#m56da8a8c78" x="311.22" y="38.545256" style="stroke: #000000; stroke-width: 0.6"/>
</g>
</g>
</g>
<g id="ytick_58">
<g id="line2d_180">
<g>
<use href="#m56da8a8c78" x="311.22" y="37.0188" style="stroke: #000000; stroke-width: 0.6"/>
</g>
</g>
</g>
<g id="ytick_59">
<g id="line2d_181">
<g>
<use href="#m56da8a8c78" x="311.22" y="35.7282" style="stroke: #000000; stroke-width: 0.6"/>
</g>
</g>
</g>
<g id="ytick_60">
<g id="line2d_182">
<g>
<use href="#m56da8a8c78" x="311.22" y="34.610231" style="stroke: #000000; stroke-width: 0.6"/>
</g>
</g>
</g>
<g id="ytick_61">
<g id="line2d_183">
<g>
<use href="#m56da8a8c78" x="311.22" y="33.624113" style="stroke: #000000; stroke-width: 0.6"/>
</g>
</g>
</g>
<g id="ytick_62">
<g id="line2d_184">
<g>
<use href="#m56da8a8c78" x="311.22" y="26.938744" style="stroke: #000000; stroke-width: 0.6"/>
</g>
</g>
</g>
<g id="ytick_63">
<g id="line2d_185">
<g>
<use href="#m56da8a8c78" x="311.22" y="23.544056" style="stroke: #000000; stroke-width: 0.6"/>
</g>
</g>
</g>
<g id="ytick_64">
<g id="line2d_186">
<g>
<use href="#m56da8a8c78" x="311.22" y="21.135487" style="stroke: #000000; stroke-width: 0.6"/>
</g>
</g>
</g>
<g id="ytick_65">
<g id="line2d_187">
<g>
<use href="#m56da8a8c78" x="311.22" y="19.267256" style="stroke: #000000; stroke-width: 0.6"/>
</g>
</g>
</g>
<g id="ytick_66">
<g id="line2d_188">
<g>
<use href="#m56da8a8c78" x="311.22" y="17.7408" style="stroke: #000000; stroke-width: 0.6"/>
</g>
</g>
</g>
<g id="ytick_67">
<g id="line2d_189">
<g>
<use href="#m56da8a8c78" x="311.22" y="16.4502" style="stroke: #000000; stroke-width: 0.6"/>
</g>
</g>
</g>
<g id="ytick_68">
<g id="line2d_190">
<g>
<use href="#m56da8a8c78" x="311.22" y="15.332231" style="stroke: #000000; stroke-width: 0.6"/>
</g>
</g>
</g>
<g id="ytick_69">
<g id="line2d_191">
<g>
<use href="#m56da8a8c78" x="311.22" y="14.346113" style="stroke: #000000; stroke-width: 0.6"/>
</g>
</g>
</g>
<g id="ytick_70">
<g id="line2d_192">
<g>
<use href="#m56da8a8c78" x="311.22" y="7.660744" style="stroke: #000000; stroke-width: 0.6"/>
</g>
</g>
</g>
<g id="ytick_71">
<g id="line2d_193">
<g>
<use href="#m56da8a8c78" x="311.22" y="4.266056" style="stroke: #000000; stroke-width: 0.6"/>
</g>
</g>
</g>
<g id="ylab_b1" transform="translate(1.440 2.052)">
<text style="font-size: 10.500px; font-family: 'Liberation Sans'; text-anchor: middle" textLength="86.968" lengthAdjust="spacingAndGlyphs" x="278.240313" y="53.892" transform="rotate(-90 278.240313 53.892)">Intensity (arb. u.)</text>
</g>
</g>
<g id="line2d_194">
<defs>
<path id="mcf05b79e9e" d="M -3 0 L 3 0 M 0 3 L 0 -3 " style="stroke: #000000"/>
</defs>
<g clip-path="url(#pccb7312ba0)">
<use href="#mcf05b79e9e" x="325.188" y="100.476" style="stroke: #000000"/>
<use href="#mcf05b79e9e" x="347.472" y="93.528" style="stroke: #000000"/>
<use href="#mcf05b79e9e" x="366.3" y="87.912" style="stroke: #000000"/>
<use href="#mcf05b79e9e" x="380.088" y="84.996" style="stroke: #000000"/>
<use href="#mcf05b79e9e" x="393.804" y="80.424" style="stroke: #000000"/>
<use href="#mcf05b79e9e" x="408.168" y="77.292" style="stroke: #000000"/>
<use href="#mcf05b79e9e" x="424.332" y="73.548" style="stroke: #000000"/>
<use href="#mcf05b79e9e" x="441.432" y="68.076" style="stroke: #000000"/>
<use href="#mcf05b79e9e" x="447.984" y="66.528" style="stroke: #000000"/>
<use href="#mcf05b79e9e" x="454.248" y="65.916" style="stroke: #000000"/>
<use href="#mcf05b79e9e" x="461.232" y="64.404" style="stroke: #000000"/>
<use href="#mcf05b79e9e" x="467.676" y="63.036" style="stroke: #000000"/>
<use href="#mcf05b79e9e" x="476.568" y="61.308" style="stroke: #000000"/>
<use href="#mcf05b79e9e" x="483.516" y="54.504" style="stroke: #000000"/>
<use href="#mcf05b79e9e" x="484.596" y="53.136" style="stroke: #000000"/>
<use href="#mcf05b79e9e" x="489.096" y="38.34" style="stroke: #000000"/>
<use href="#mcf05b79e9e" x="491.652" y="28.98" style="stroke: #000000"/>
<use href="#mcf05b79e9e" x="494.352" y="22.104" style="stroke: #000000"/>
<use href="#mcf05b79e9e" x="498.06" y="13.644" style="stroke: #000000"/>
<use href="#mcf05b79e9e" x="501.084" y="7.056" style="stroke: #000000"/>
<use href="#mcf05b79e9e" x="503.64" y="7.056" style="stroke: #000000"/>
</g>
</g>
<g id="patch_10">
<path d="M 311.22 105.192 L 311.22 2.592 " style="fill: none; stroke: #000000; stroke-width: 0.8; stroke-linejoin: miter; stroke-linecap: square"/>
</g>
<g id="patch_11">
<path d="M 508.068 105.192 L 508.068 2.592 " style="fill: none; stroke: #000000; stroke-width: 0.8; stroke-linejoin: miter; stroke-linecap: square"/>
</g>
<g id="patch_12">
<path d="M 311.22 105.192 L 508.068 105.192 " style="fill: none; stroke: #000000; stroke-width: 0.8; stroke-linejoin: miter; stroke-linecap: square"/>
</g>
<g id="patch_13">
<path d="M 311.22 2.592 L 508.068 2.592 " style="fill: none; stroke: #000000; stroke-width: 0.8; stroke-linejoin: miter; stroke-linecap: square"/>
</g>
<g id="pthr">
<g style="fill: #808080; color: #808080" transform="translate(471.96 14.616) scale(0.9910 1)">
<text>
<tspan x="0" y="-0.009375" style="font-style: italic; font-size: 10.500px; font-family: 'Liberation Sans'; fill: #808080; color: #808080" textLength="6.030" lengthAdjust="spacingAndGlyphs">P</tspan>
<tspan x="6.030273" y="1.63125" style="font-size: 7.350px; font-family: 'Liberation Sans'; fill: #808080; color: #808080" textLength="2.745" lengthAdjust="spacingAndGlyphs">t</tspan>
<tspan x="8.774902" y="1.63125" style="font-size: 7.350px; font-family: 'Liberation Sans'; fill: #808080; color: #808080" textLength="4.437" lengthAdjust="spacingAndGlyphs">h</tspan>
<tspan x="13.211426" y="1.63125" style="font-size: 7.350px; font-family: 'Liberation Sans'; fill: #808080; color: #808080" textLength="2.878" lengthAdjust="spacingAndGlyphs">r</tspan>
</text>
</g>
</g>
<g id="legend_2">
<g id="patch_14">
<path d="M 318.22 31.56825 L 414.623438 31.56825 Q 416.623438 31.56825 416.623438 29.56825 L 416.623438 9.592 Q 416.623438 7.592 414.623438 7.592 L 318.22 7.592 Q 316.22 7.592 316.22 9.592 L 316.22 29.56825 Q 316.22 31.56825 318.22 31.56825 z
" style="fill: #ffffff; fill-opacity: 0.8; stroke-opacity: 0.8; stroke: #cccccc; stroke-linejoin: miter; color: #ffffff"/>
</g>
<g id="line2d_195">
<g>
<use href="#mcf05b79e9e" x="328.01" y="13.480438" style="stroke: #000000"/>
</g>
</g>
<g id="text_17">
<text style="font-size: 10.500px; font-family: 'Liberation Sans'; text-anchor: start" textLength="68.823" lengthAdjust="spacingAndGlyphs" x="346.01" y="16.980438" transform="rotate(-0 346.01 16.980438)">Output power</text>
</g>
<g id="line2d_196">
<defs>
<path id="m27e02e70e5" d="M -3 3 L 3 -3 M -3 -3 L 3 3 " style="stroke: #ff0000"/>
</defs>
<g>
<use href="#m27e02e70e5" x="328.01" y="24.198563" style="fill: #ff0000; stroke: #ff0000; color: #ff0000"/>
</g>
</g>
<g id="text_18">
<text style="font-size: 10.500px; font-family: 'Liberation Sans'; text-anchor: start" textLength="62.212" lengthAdjust="spacingAndGlyphs" x="346.01" y="27.698563" transform="rotate(-0 346.01 27.698563)">Mode FWHM</text>
</g>
</g>
</g>
<g id="axes_3">
<g id="patch_15">
<path d="M 311.22 153.432 L 508.068 153.432 L 508.068 112.284 L 311.22 112.284 z
" style="fill: #ffffff; color: #ffffff"/>
</g>
<g id="patch_16">
<path d="M 471.19126 153.432 L 488.950452 153.432 L 488.950452 112.284 L 471.19126 112.284 z
" clip-path="url(#p6dec215f47)" style="fill: #808080; fill-opacity: 0.3; stroke-opacity: 0.3; stroke: #808080; stroke-linejoin: miter; color: #808080"/>
</g>
<g id="matplotlib.axis_5">
<g id="xtick_44">
<g id="line2d_197">
<g>
<use href="#m2b4970a3c0" x="331.56" y="153.432" style="stroke: #000000; stroke-width: 0.8"/>
</g>
</g>
<g id="line2d_198">
<g>
<use href="#m33ad5a67c3" x="331.56" y="112.284" style="stroke: #000000; stroke-width: 0.8"/>
</g>
</g>
<g id="text_19">
<g transform="translate(319.86 164.572312) scale(0.9910 1)">
<text>
<tspan x="0" y="-0.076563" style="font-size: 10.500px; font-family: 'Liberation Sans'" textLength="6.362" lengthAdjust="spacingAndGlyphs">1</tspan>
<tspan x="6.362305" y="-0.076563" style="font-size: 10.500px; font-family: 'Liberation Sans'" textLength="6.362" lengthAdjust="spacingAndGlyphs">0</tspan>
<tspan x="12.820312" y="-3.904688" style="font-size: 7.350px; font-family: 'Liberation Sans'" textLength="5.865" lengthAdjust="spacingAndGlyphs">−</tspan>
<tspan x="18.685547" y="-3.904688" style="font-size: 7.350px; font-family: 'Liberation Sans'" textLength="4.454" lengthAdjust="spacingAndGlyphs">2</tspan>
</text>
</g>
</g>
</g>
<g id="xtick_45">
<g id="line2d_199">
<g>
<use href="#m2b4970a3c0" x="399.96" y="153.432" style="stroke: #000000; stroke-width: 0.8"/>
</g>
</g>
<g id="line2d_200">
<g>
<use href="#m33ad5a67c3" x="399.96" y="112.284" style="stroke: #000000; stroke-width: 0.8"/>
</g>
</g>
<g id="text_20">
<g transform="translate(388.26 164.572312) scale(0.9910 1)">
<text>
<tspan x="0" y="-0.068438" style="font-size: 10.500px; font-family: 'Liberation Sans'" textLength="6.362" lengthAdjust="spacingAndGlyphs">1</tspan>
<tspan x="6.362305" y="-0.068438" style="font-size: 10.500px; font-family: 'Liberation Sans'" textLength="6.362" lengthAdjust="spacingAndGlyphs">0</tspan>
<tspan x="12.820312" y="-3.896563" style="font-size: 7.350px; font-family: 'Liberation Sans'" textLength="5.865" lengthAdjust="spacingAndGlyphs">−</tspan>
<tspan x="18.685547" y="-3.896563" style="font-size: 7.350px; font-family: 'Liberation Sans'" textLength="4.454" lengthAdjust="spacingAndGlyphs">1</tspan>
</text>
</g>
</g>
</g>
<g id="xtick_46">
<g id="line2d_201">
<g>
<use href="#m2b4970a3c0" x="468.36" y="153.432" style="stroke: #000000; stroke-width: 0.8"/>
</g>
</g>
<g id="line2d_202">
<g>
<use href="#m33ad5a67c3" x="468.36" y="112.284" style="stroke: #000000; stroke-width: 0.8"/>
</g>
</g>
<g id="text_21">
<g transform="translate(459.54 164.572312) scale(0.9910 1)">
<text>
<tspan x="0" y="-0.076563" style="font-size: 10.500px; font-family: 'Liberation Sans'" textLength="6.362" lengthAdjust="spacingAndGlyphs">1</tspan>
<tspan x="6.362305" y="-0.076563" style="font-size: 10.500px; font-family: 'Liberation Sans'" textLength="6.362" lengthAdjust="spacingAndGlyphs">0</tspan>
<tspan x="12.820312" y="-3.904688" style="font-size: 7.350px; font-family: 'Liberation Sans'" textLength="4.454" lengthAdjust="spacingAndGlyphs">0</tspan>
</text>
</g>
</g>
</g>
<g id="xtick_47">
<g id="line2d_203">
<g>
<use href="#mdb4b7853e7" x="316.385546" y="153.432" style="stroke: #000000; stroke-width: 0.6"/>
</g>
</g>
<g id="line2d_204">
<g>
<use href="#m0a208b328b" x="316.385546" y="112.284" style="stroke: #000000; stroke-width: 0.6"/>
</g>
</g>
</g>
<g id="xtick_48">
<g id="line2d_205">
<g>
<use href="#mdb4b7853e7" x="320.964706" y="153.432" style="stroke: #000000; stroke-width: 0.6"/>
</g>
</g>
<g id="line2d_206">
<g>
<use href="#m0a208b328b" x="320.964706" y="112.284" style="stroke: #000000; stroke-width: 0.6"/>
</g>
</g>
</g>
<g id="xtick_49">
<g id="line2d_207">
<g>
<use href="#mdb4b7853e7" x="324.931355" y="153.432" style="stroke: #000000; stroke-width: 0.6"/>
</g>
</g>
<g id="line2d_208">
<g>
<use href="#m0a208b328b" x="324.931355" y="112.284" style="stroke: #000000; stroke-width: 0.6"/>
</g>
</g>
</g>
<g id="xtick_50">
<g id="line2d_209">
<g>
<use href="#mdb4b7853e7" x="328.430188" y="153.432" style="stroke: #000000; stroke-width: 0.6"/>
</g>
</g>
<g id="line2d_210">
<g>
<use href="#m0a208b328b" x="328.430188" y="112.284" style="stroke: #000000; stroke-width: 0.6"/>
</g>
</g>
</g>
<g id="xtick_51">
<g id="line2d_211">
<g>
<use href="#mdb4b7853e7" x="352.150452" y="153.432" style="stroke: #000000; stroke-width: 0.6"/>
</g>
</g>
<g id="line2d_212">
<g>
<use href="#m0a208b328b" x="352.150452" y="112.284" style="stroke: #000000; stroke-width: 0.6"/>
</g>
</g>
</g>
<g id="xtick_52">
<g id="line2d_213">
<g>
<use href="#mdb4b7853e7" x="364.195094" y="153.432" style="stroke: #000000; stroke-width: 0.6"/>
</g>
</g>
<g id="line2d_214">
<g>
<use href="#m0a208b328b" x="364.195094" y="112.284" style="stroke: #000000; stroke-width: 0.6"/>
</g>
</g>
</g>
<g id="xtick_53">
<g id="line2d_215">
<g>
<use href="#mdb4b7853e7" x="372.740903" y="153.432" style="stroke: #000000; stroke-width: 0.6"/>
</g>
</g>
<g id="line2d_216">
<g>
<use href="#m0a208b328b" x="372.740903" y="112.284" style="stroke: #000000; stroke-width: 0.6"/>
</g>
</g>
</g>
<g id="xtick_54">
<g id="line2d_217">
<g>
<use href="#mdb4b7853e7" x="379.369548" y="153.432" style="stroke: #000000; stroke-width: 0.6"/>
</g>
</g>
<g id="line2d_218">
<g>
<use href="#m0a208b328b" x="379.369548" y="112.284" style="stroke: #000000; stroke-width: 0.6"/>
</g>
</g>
</g>
<g id="xtick_55">
<g id="line2d_219">
<g>
<use href="#mdb4b7853e7" x="384.785546" y="153.432" style="stroke: #000000; stroke-width: 0.6"/>
</g>
</g>
<g id="line2d_220">
<g>
<use href="#m0a208b328b" x="384.785546" y="112.284" style="stroke: #000000; stroke-width: 0.6"/>
</g>
</g>
</g>
<g id="xtick_56">
<g id="line2d_221">
<g>
<use href="#mdb4b7853e7" x="389.364706" y="153.432" style="stroke: #000000; stroke-width: 0.6"/>
</g>
</g>
<g id="line2d_222">
<g>
<use href="#m0a208b328b" x="389.364706" y="112.284" style="stroke: #000000; stroke-width: 0.6"/>
</g>
</g>
</g>
<g id="xtick_57">
<g id="line2d_223">
<g>
<use href="#mdb4b7853e7" x="393.331355" y="153.432" style="stroke: #000000; stroke-width: 0.6"/>
</g>
</g>
<g id="line2d_224">
<g>
<use href="#m0a208b328b" x="393.331355" y="112.284" style="stroke: #000000; stroke-width: 0.6"/>
</g>
</g>
</g>
<g id="xtick_58">
<g id="line2d_225">
<g>
<use href="#mdb4b7853e7" x="396.830188" y="153.432" style="stroke: #000000; stroke-width: 0.6"/>
</g>
</g>
<g id="line2d_226">
<g>
<use href="#m0a208b328b" x="396.830188" y="112.284" style="stroke: #000000; stroke-width: 0.6"/>
</g>
</g>
</g>
<g id="xtick_59">
<g id="line2d_227">
<g>
<use href="#mdb4b7853e7" x="420.550452" y="153.432" style="stroke: #000000; stroke-width: 0.6"/>
</g>
</g>
<g id="line2d_228">
<g>
<use href="#m0a208b328b" x="420.550452" y="112.284" style="stroke: #000000; stroke-width: 0.6"/>
</g>
</g>
</g>
<g id="xtick_60">
<g id="line2d_229">
<g>
<use href="#mdb4b7853e7" x="432.595094" y="153.432" style="stroke: #000000; stroke-width: 0.6"/>
</g>
</g>
<g id="line2d_230">
<g>
<use href="#m0a208b328b" x="432.595094" y="112.284" style="stroke: #000000; stroke-width: 0.6"/>
</g>
</g>
</g>
<g id="xtick_61">
<g id="line2d_231">
<g>
<use href="#mdb4b7853e7" x="441.140903" y="153.432" style="stroke: #000000; stroke-width: 0.6"/>
</g>
</g>
<g id="line2d_232">
<g>
<use href="#m0a208b328b" x="441.140903" y="112.284" style="stroke: #000000; stroke-width: 0.6"/>
</g>
</g>
</g>
<g id="xtick_62">
<g id="line2d_233">
<g>
<use href="#mdb4b7853e7" x="447.769548" y="153.432" style="stroke: #000000; stroke-width: 0.6"/>
</g>
</g>
<g id="line2d_234">
<g>
<use href="#m0a208b328b" x="447.769548" y="112.284" style="stroke: #000000; stroke-width: 0.6"/>
</g>
</g>
</g>
<g id="xtick_63">
<g id="line2d_235">
<g>
<use href="#mdb4b7853e7" x="453.185546" y="153.432" style="stroke: #000000; stroke-width: 0.6"/>
</g>
</g>
<g id="line2d_236">
<g>
<use href="#m0a208b328b" x="453.185546" y="112.284" style="stroke: #000000; stroke-width: 0.6"/>
</g>
</g>
</g>
<g id="xtick_64">
<g id="line2d_237">
<g>
<use href="#mdb4b7853e7" x="457.764706" y="153.432" style="stroke: #000000; stroke-width: 0.6"/>
</g>
</g>
<g id="line2d_238">
<g>
<use href="#m0a208b328b" x="457.764706" y="112.284" style="stroke: #000000; stroke-width: 0.6"/>
</g>
</g>
</g>
<g id="xtick_65">
<g id="line2d_239">
<g>
<use href="#mdb4b7853e7" x="461.731355" y="153.432" style="stroke: #000000; stroke-width: 0.6"/>
</g>
</g>
<g id="line2d_240">
<g>
<use href="#m0a208b328b" x="461.731355" y="112.284" style="stroke: #000000; stroke-width: 0.6"/>
</g>
</g>
</g>
<g id="xtick_66">
<g id="line2d_241">
<g>
<use href="#mdb4b7853e7" x="465.230188" y="153.432" style="stroke: #000000; stroke-width: 0.6"/>
</g>
</g>
<g id="line2d_242">
<g>
<use href="#m0a208b328b" x="465.230188" y="112.284" style="stroke: #000000; stroke-width: 0.6"/>
</g>
</g>
</g>
<g id="xtick_67">
<g id="line2d_243">
<g>
<use href="#mdb4b7853e7" x="488.950452" y="153.432" style="stroke: #000000; stroke-width: 0.6"/>
</g>
</g>
<g id="line2d_244">
<g>
<use href="#m0a208b328b" x="488.950452" y="112.284" style="stroke: #000000; stroke-width: 0.6"/>
</g>
</g>
</g>
<g id="xtick_68">
<g id="line2d_245">
<g>
<use href="#mdb4b7853e7" x="500.995094" y="153.432" style="stroke: #000000; stroke-width: 0.6"/>
</g>
</g>
<g id="line2d_246">
<g>
<use href="#m0a208b328b" x="500.995094" y="112.284" style="stroke: #000000; stroke-width: 0.6"/>
</g>
</g>
</g>
<g id="xlab_b2" transform="translate(0.144 1.116)">
<g transform="translate(341.604 178.572) scale(0.9910 1)">
<text>
<tspan x="0" y="-0.001563" style="font-size: 10.500px; font-family: 'Liberation Sans'" textLength="6.318" lengthAdjust="spacingAndGlyphs">E</tspan>
<tspan x="6.318359" y="-0.001563" style="font-size: 10.500px; font-family: 'Liberation Sans'" textLength="5.918" lengthAdjust="spacingAndGlyphs">x</tspan>
<tspan x="12.236328" y="-0.001563" style="font-size: 10.500px; font-family: 'Liberation Sans'" textLength="5.498" lengthAdjust="spacingAndGlyphs">c</tspan>
<tspan x="17.734375" y="-0.001563" style="font-size: 10.500px; font-family: 'Liberation Sans'" textLength="2.778" lengthAdjust="spacingAndGlyphs">i</tspan>
<tspan x="20.512695" y="-0.001563" style="font-size: 10.500px; font-family: 'Liberation Sans'" textLength="3.921" lengthAdjust="spacingAndGlyphs">t</tspan>
<tspan x="24.433594" y="-0.001563" style="font-size: 10.500px; font-family: 'Liberation Sans'" textLength="6.128" lengthAdjust="spacingAndGlyphs">a</tspan>
<tspan x="30.561523" y="-0.001563" style="font-size: 10.500px; font-family: 'Liberation Sans'" textLength="3.921" lengthAdjust="spacingAndGlyphs">t</tspan>
<tspan x="34.482422" y="-0.001563" style="font-size: 10.500px; font-family: 'Liberation Sans'" textLength="2.778" lengthAdjust="spacingAndGlyphs">i</tspan>
<tspan x="37.260742" y="-0.001563" style="font-size: 10.500px; font-family: 'Liberation Sans'" textLength="6.118" lengthAdjust="spacingAndGlyphs">o</tspan>
<tspan x="43.378906" y="-0.001563" style="font-size: 10.500px; font-family: 'Liberation Sans'" textLength="6.338" lengthAdjust="spacingAndGlyphs">n</tspan>
<tspan x="49.716797" y="-0.001563" style="font-size: 10.500px; font-family: 'Liberation Sans'"> </tspan>
<tspan x="52.895508" y="-0.001563" style="font-size: 10.500px; font-family: 'Liberation Sans'" textLength="6.348" lengthAdjust="spacingAndGlyphs">p</tspan>
<tspan x="59.243164" y="-0.001563" style="font-size: 10.500px; font-family: 'Liberation Sans'" textLength="6.118" lengthAdjust="spacingAndGlyphs">o</tspan>
<tspan x="65.361328" y="-0.001563" style="font-size: 10.500px; font-family: 'Liberation Sans'" textLength="8.179" lengthAdjust="spacingAndGlyphs">w</tspan>
<tspan x="73.540039" y="-0.001563" style="font-size: 10.500px; font-family: 'Liberation Sans'" textLength="6.152" lengthAdjust="spacingAndGlyphs">e</tspan>
<tspan x="79.692383" y="-0.001563" style="font-size: 10.500px; font-family: 'Liberation Sans'" textLength="4.111" lengthAdjust="spacingAndGlyphs">r</tspan>
<tspan x="83.803711" y="-0.001563" style="font-size: 10.500px; font-family: 'Liberation Sans'"> </tspan>
<tspan x="105.583984" y="-0.001563" style="font-size: 10.500px; font-family: 'Liberation Sans'"> </tspan>
<tspan x="108.762695" y="-0.001563" style="font-size: 10.500px; font-family: 'Liberation Sans'" textLength="3.901" lengthAdjust="spacingAndGlyphs">(</tspan>
<tspan x="112.664062" y="-0.001563" style="font-size: 10.500px; font-family: 'Liberation Sans'" textLength="9.741" lengthAdjust="spacingAndGlyphs">m</tspan>
<tspan x="122.405273" y="-0.001563" style="font-size: 10.500px; font-family: 'Liberation Sans'" textLength="9.888" lengthAdjust="spacingAndGlyphs">W</tspan>
<tspan x="132.292969" y="-0.001563" style="font-size: 10.500px; font-family: 'Liberation Sans'" textLength="3.901" lengthAdjust="spacingAndGlyphs">)</tspan>
<tspan x="86.982422" y="-0.001563" style="font-style: italic; font-size: 10.500px; font-family: 'Liberation Sans'" textLength="6.030" lengthAdjust="spacingAndGlyphs">P</tspan>
<tspan x="93.012695" y="1.639063" style="font-size: 7.350px; font-family: 'Liberation Sans'" textLength="4.307" lengthAdjust="spacingAndGlyphs">e</tspan>
<tspan x="97.319336" y="1.639063" style="font-size: 7.350px; font-family: 'Liberation Sans'" textLength="4.143" lengthAdjust="spacingAndGlyphs">x</tspan>
<tspan x="101.461914" y="1.639063" style="font-size: 7.350px; font-family: 'Liberation Sans'" textLength="3.849" lengthAdjust="spacingAndGlyphs">c</tspan>
</text>
</g>
</g>
</g>
<g id="matplotlib.axis_6">
<g id="ytick_72">
<g id="line2d_247">
<g>
<use href="#m90c7cc0374" x="311.22" y="151.56" style="stroke: #000000; stroke-width: 0.8"/>
</g>
</g>
<g id="line2d_248">
<g>
<use href="#m5c0d456e2d" x="508.068" y="151.56" style="stroke: #000000; stroke-width: 0.8"/>
</g>
</g>
<g id="text_22">
<text style="font-size: 10.500px; font-family: 'Liberation Sans'; text-anchor: end" textLength="6.362" lengthAdjust="spacingAndGlyphs" x="307.72" y="155.359219" transform="rotate(-0 307.72 155.359219)">0</text>
</g>
</g>
<g id="ytick_73">
<g id="line2d_249">
<g>
<use href="#m90c7cc0374" x="311.22" y="117.072" style="stroke: #000000; stroke-width: 0.8"/>
</g>
</g>
<g id="line2d_250">
<g>
<use href="#m5c0d456e2d" x="508.068" y="117.072" style="stroke: #000000; stroke-width: 0.8"/>
</g>
</g>
<g id="text_23">
<text style="font-size: 10.500px; font-family: 'Liberation Sans'; text-anchor: end" textLength="6.362" lengthAdjust="spacingAndGlyphs" x="307.72" y="120.871219" transform="rotate(-0 307.72 120.871219)">2</text>
</g>
</g>
<g id="ytick_74">
<g id="line2d_251">
<g>
<use href="#m56da8a8c78" x="311.22" y="142.938" style="stroke: #000000; stroke-width: 0.6"/>
</g>
</g>
<g id="line2d_252">
<g>
<use href="#m1119887b76" x="508.068" y="142.938" style="stroke: #000000; stroke-width: 0.6"/>
</g>
</g>
</g>
<g id="ytick_75">
<g id="line2d_253">
<g>
<use href="#m56da8a8c78" x="311.22" y="134.316" style="stroke: #000000; stroke-width: 0.6"/>
</g>
</g>
<g id="line2d_254">
<g>
<use href="#m1119887b76" x="508.068" y="134.316" style="stroke: #000000; stroke-width: 0.6"/>
</g>
</g>
</g>
<g id="ytick_76">
<g id="line2d_255">
<g>
<use href="#m56da8a8c78" x="311.22" y="125.694" style="stroke: #000000; stroke-width: 0.6"/>
</g>
</g>
<g id="line2d_256">
<g>
<use href="#m1119887b76" x="508.068" y="125.694" style="stroke: #000000; stroke-width: 0.6"/>
</g>
</g>
</g>
<g id="ylab_b2" transform="translate(0.720 0.000)">
<text style="font-size: 10.500px; font-family: 'Liberation Sans'" textLength="43.721" lengthAdjust="spacingAndGlyphs" transform="translate(284.08 154.718156) rotate(-90)">Blueshift</text>
<text style="font-size: 10.500px; font-family: 'Liberation Sans'" textLength="30.537" lengthAdjust="spacingAndGlyphs" transform="translate(295.277813 148.12675) rotate(-90)">(meV)</text>
</g>
</g>
<g id="line2d_257">
<g clip-path="url(#p6dec215f47)">
<use href="#m25b837ac0a" x="325.188" y="151.128" style="stroke: #000000"/>
<use href="#m25b837ac0a" x="347.472" y="150.444" style="stroke: #000000"/>
<use href="#m25b837ac0a" x="366.3" y="149.976" style="stroke: #000000"/>
<use href="#m25b837ac0a" x="380.088" y="149.436" style="stroke: #000000"/>
<use href="#m25b837ac0a" x="393.804" y="148.428" style="stroke: #000000"/>
<use href="#m25b837ac0a" x="408.168" y="147.096" style="stroke: #000000"/>
<use href="#m25b837ac0a" x="424.332" y="144.468" style="stroke: #000000"/>
<use href="#m25b837ac0a" x="441.432" y="138.852" style="stroke: #000000"/>
<use href="#m25b837ac0a" x="447.984" y="136.872" style="stroke: #000000"/>
<use href="#m25b837ac0a" x="454.248" y="135.216" style="stroke: #000000"/>
<use href="#m25b837ac0a" x="461.232" y="131.904" style="stroke: #000000"/>
<use href="#m25b837ac0a" x="467.676" y="128.808" style="stroke: #000000"/>
<use href="#m25b837ac0a" x="476.568" y="122.328" style="stroke: #000000"/>
<use href="#m25b837ac0a" x="483.516" y="117.072" style="stroke: #000000"/>
<use href="#m25b837ac0a" x="484.596" y="117.576" style="stroke: #000000"/>
<use href="#m25b837ac0a" x="489.096" y="115.74" style="stroke: #000000"/>
<use href="#m25b837ac0a" x="491.652" y="115.416" style="stroke: #000000"/>
<use href="#m25b837ac0a" x="494.352" y="115.416" style="stroke: #000000"/>
<use href="#m25b837ac0a" x="498.06" y="115.092" style="stroke: #000000"/>
<use href="#m25b837ac0a" x="501.084" y="114.948" style="stroke: #000000"/>
<use href="#m25b837ac0a" x="503.64" y="114.768" style="stroke: #000000"/>
</g>
</g>
<g id="patch_17">
<path d="M 311.22 153.432 L 311.22 112.284 " style="fill: none; stroke: #000000; stroke-width: 0.8; stroke-linejoin: miter; stroke-linecap: square"/>
</g>
<g id="patch_18">
<path d="M 508.068 153.432 L 508.068 112.284 " style="fill: none; stroke: #000000; stroke-width: 0.8; stroke-linejoin: miter; stroke-linecap: square"/>
</g>
<g id="patch_19">
<path d="M 311.22 153.432 L 508.068 153.432 " style="fill: none; stroke: #000000; stroke-width: 0.8; stroke-linejoin: miter; stroke-linecap: square"/>
</g>
<g id="patch_20">
<path d="M 311.22 112.284 L 508.068 112.284 " style="fill: none; stroke: #000000; stroke-width: 0.8; stroke-linejoin: miter; stroke-linecap: square"/>
</g>
<g id="legend_3">
<g id="patch_21">
<path d="M 318.22 130.584 L 411.32 130.584 Q 413.32 130.584 413.32 128.584 L 413.32 119.284 Q 413.32 117.284 411.32 117.284 L 318.22 117.284 Q 316.22 117.284 316.22 119.284 L 316.22 128.584 Q 316.22 130.584 318.22 130.584 z
" style="fill: #ffffff; fill-opacity: 0.8; stroke-opacity: 0.8; stroke: #cccccc; stroke-linejoin: miter; color: #ffffff"/>
</g>
<g id="line2d_258">
<g>
<use href="#m25b837ac0a" x="328.01" y="123.214313" style="stroke: #000000"/>
</g>
</g>
<g id="text_24">
<g transform="translate(346.01 126.714313) scale(0.9910 1)">
<text>
<tspan x="0" y="-0.0125" style="font-style: italic; font-size: 10.500px; font-family: 'Liberation Sans'" textLength="6.318" lengthAdjust="spacingAndGlyphs">E</tspan>
<tspan x="10.219727" y="-0.0125" style="font-style: italic; font-size: 10.500px; font-family: 'Liberation Sans'" textLength="6.030" lengthAdjust="spacingAndGlyphs">P</tspan>
<tspan x="44.998047" y="-0.0125" style="font-style: italic; font-size: 10.500px; font-family: 'Liberation Sans'" textLength="6.318" lengthAdjust="spacingAndGlyphs">E</tspan>
<tspan x="6.318359" y="-0.0125" style="font-size: 10.500px; font-family: 'Liberation Sans'" textLength="3.901" lengthAdjust="spacingAndGlyphs">(</tspan>
<tspan x="28.821289" y="-0.0125" style="font-size: 10.500px; font-family: 'Liberation Sans'" textLength="3.901" lengthAdjust="spacingAndGlyphs">)</tspan>
<tspan x="34.670898" y="-0.0125" style="font-size: 10.500px; font-family: 'Liberation Sans'" textLength="8.379" lengthAdjust="spacingAndGlyphs">−</tspan>
<tspan x="51.316406" y="-0.0125" style="font-size: 10.500px; font-family: 'Liberation Sans'" textLength="3.901" lengthAdjust="spacingAndGlyphs">(</tspan>
<tspan x="55.217773" y="-0.0125" style="font-size: 10.500px; font-family: 'Liberation Sans'" textLength="6.362" lengthAdjust="spacingAndGlyphs">0</tspan>
<tspan x="61.580078" y="-0.0125" style="font-size: 10.500px; font-family: 'Liberation Sans'" textLength="3.901" lengthAdjust="spacingAndGlyphs">)</tspan>
<tspan x="16.25" y="1.628125" style="font-size: 7.350px; font-family: 'Liberation Sans'" textLength="4.307" lengthAdjust="spacingAndGlyphs">e</tspan>
<tspan x="20.556641" y="1.628125" style="font-size: 7.350px; font-family: 'Liberation Sans'" textLength="4.143" lengthAdjust="spacingAndGlyphs">x</tspan>
<tspan x="24.699219" y="1.628125" style="font-size: 7.350px; font-family: 'Liberation Sans'" textLength="3.849" lengthAdjust="spacingAndGlyphs">c</tspan>
</text>
</g>
</g>
</g>
</g>
<g id="axes_4">
<g id="matplotlib.axis_7">
<g id="ytick_77">
<g id="line2d_259">
<defs>
<path id="me3dbfbafcb" d="M 0 0 L -3.8 0 " style="stroke: #ff0000; stroke-width: 0.8"/>
</defs>
<g>
<use href="#me3dbfbafcb" x="508.068" y="78.948" style="fill: #ff0000; stroke: #ff0000; stroke-width: 0.8; color: #ff0000"/>
</g>
</g>
<g id="text_25">
<text style="font-size: 10.500px; font-family: 'Liberation Sans'; text-anchor: start; fill: #ff0000; color: #ff0000" textLength="15.903" lengthAdjust="spacingAndGlyphs" x="511.568" y="82.747219" transform="rotate(-0 511.568 82.747219)">0.1</text>
</g>
</g>
<g id="ytick_78">
<g id="line2d_260">
<g>
<use href="#me3dbfbafcb" x="508.068" y="12.168" style="fill: #ff0000; stroke: #ff0000; stroke-width: 0.8; color: #ff0000"/>
</g>
</g>
<g id="text_26">
<text style="font-size: 10.500px; font-family: 'Liberation Sans'; text-anchor: start; fill: #ff0000; color: #ff0000" textLength="6.362" lengthAdjust="spacingAndGlyphs" x="511.568" y="15.967219" transform="rotate(-0 511.568 15.967219)">1</text>
</g>
</g>
<g id="ytick_79">
<g id="line2d_261">
<defs>
<path id="mb0ec36232d" d="M 0 0 L -2.15 0 " style="stroke: #ff0000; stroke-width: 0.6"/>
</defs>
<g>
<use href="#mb0ec36232d" x="508.068" y="99.050783" style="fill: #ff0000; stroke: #ff0000; stroke-width: 0.6; color: #ff0000"/>
</g>
</g>
</g>
<g id="ytick_80">
<g id="line2d_262">
<g>
<use href="#mb0ec36232d" x="508.068" y="93.763059" style="fill: #ff0000; stroke: #ff0000; stroke-width: 0.6; color: #ff0000"/>
</g>
</g>
</g>
<g id="ytick_81">
<g id="line2d_263">
<g>
<use href="#mb0ec36232d" x="508.068" y="89.292353" style="fill: #ff0000; stroke: #ff0000; stroke-width: 0.6; color: #ff0000"/>
</g>
</g>
</g>
<g id="ytick_82">
<g id="line2d_264">
<g>
<use href="#mb0ec36232d" x="508.068" y="85.419651" style="fill: #ff0000; stroke: #ff0000; stroke-width: 0.6; color: #ff0000"/>
</g>
</g>
</g>
<g id="ytick_83">
<g id="line2d_265">
<g>
<use href="#mb0ec36232d" x="508.068" y="82.003685" style="fill: #ff0000; stroke: #ff0000; stroke-width: 0.6; color: #ff0000"/>
</g>
</g>
</g>
<g id="ytick_84">
<g id="line2d_266">
<g>
<use href="#mb0ec36232d" x="508.068" y="58.845217" style="fill: #ff0000; stroke: #ff0000; stroke-width: 0.6; color: #ff0000"/>
</g>
</g>
</g>
<g id="ytick_85">
<g id="line2d_267">
<g>
<use href="#mb0ec36232d" x="508.068" y="47.085843" style="fill: #ff0000; stroke: #ff0000; stroke-width: 0.6; color: #ff0000"/>
</g>
</g>
</g>
<g id="ytick_86">
<g id="line2d_268">
<g>
<use href="#mb0ec36232d" x="508.068" y="38.742434" style="fill: #ff0000; stroke: #ff0000; stroke-width: 0.6; color: #ff0000"/>
</g>
</g>
</g>
<g id="ytick_87">
<g id="line2d_269">
<g>
<use href="#mb0ec36232d" x="508.068" y="32.270783" style="fill: #ff0000; stroke: #ff0000; stroke-width: 0.6; color: #ff0000"/>
</g>
</g>
</g>
<g id="ytick_88">
<g id="line2d_270">
<g>
<use href="#mb0ec36232d" x="508.068" y="26.983059" style="fill: #ff0000; stroke: #ff0000; stroke-width: 0.6; color: #ff0000"/>
</g>
</g>
</g>
<g id="ytick_89">
<g id="line2d_271">
<g>
<use href="#mb0ec36232d" x="508.068" y="22.512353" style="fill: #ff0000; stroke: #ff0000; stroke-width: 0.6; color: #ff0000"/>
</g>
</g>
</g>
<g id="ytick_90">
<g id="line2d_272">
<g>
<use href="#mb0ec36232d" x="508.068" y="18.639651" style="fill: #ff0000; stroke: #ff0000; stroke-width: 0.6; color: #ff0000"/>
</g>
</g>
</g>
<g id="ytick_91">
<g id="line2d_273">
<g>
<use href="#mb0ec36232d" x="508.068" y="15.223685" style="fill: #ff0000; stroke: #ff0000; stroke-width: 0.6; color: #ff0000"/>
</g>
</g>
</g>
<g id="ylab_bt">
<text style="font-size: 10.500px; font-family: 'Liberation Sans'; text-anchor: middle; fill: #ff0000; color: #ff0000" textLength="82.119" lengthAdjust="spacingAndGlyphs" x="539.069563" y="53.892" transform="rotate(-90 539.069563 53.892)">Linewidth (meV)</text>
</g>
</g>
<g id="line2d_274">
<g clip-path="url(#pccb7312ba0)">
<use href="#m27e02e70e5" x="325.188" y="73.26" style="fill: #ff0000; stroke: #ff0000; color: #ff0000"/>
<use href="#m27e02e70e5" x="347.472" y="66.312" style="fill: #ff0000; stroke: #ff0000; color: #ff0000"/>
<use href="#m27e02e70e5" x="366.3" y="56.916" style="fill: #ff0000; stroke: #ff0000; color: #ff0000"/>
<use href="#m27e02e70e5" x="380.088" y="54.288" style="fill: #ff0000; stroke: #ff0000; color: #ff0000"/>
<use href="#m27e02e70e5" x="393.804" y="47.16" style="fill: #ff0000; stroke: #ff0000; color: #ff0000"/>
<use href="#m27e02e70e5" x="408.168" y="40.032" style="fill: #ff0000; stroke: #ff0000; color: #ff0000"/>
<use href="#m27e02e70e5" x="424.332" y="33.372" style="fill: #ff0000; stroke: #ff0000; color: #ff0000"/>
<use href="#m27e02e70e5" x="441.432" y="23.22" style="fill: #ff0000; stroke: #ff0000; color: #ff0000"/>
<use href="#m27e02e70e5" x="447.984" y="20.808" style="fill: #ff0000; stroke: #ff0000; color: #ff0000"/>
<use href="#m27e02e70e5" x="454.248" y="22.536" style="fill: #ff0000; stroke: #ff0000; color: #ff0000"/>
<use href="#m27e02e70e5" x="461.232" y="23.544" style="fill: #ff0000; stroke: #ff0000; color: #ff0000"/>
<use href="#m27e02e70e5" x="467.748" y="27.252" style="fill: #ff0000; stroke: #ff0000; color: #ff0000"/>
<use href="#m27e02e70e5" x="476.568" y="45.18" style="fill: #ff0000; stroke: #ff0000; color: #ff0000"/>
<use href="#m27e02e70e5" x="483.516" y="78.048" style="fill: #ff0000; stroke: #ff0000; color: #ff0000"/>
<use href="#m27e02e70e5" x="484.74" y="82.512" style="fill: #ff0000; stroke: #ff0000; color: #ff0000"/>
<use href="#m27e02e70e5" x="489.132" y="95.904" style="fill: #ff0000; stroke: #ff0000; color: #ff0000"/>
<use href="#m27e02e70e5" x="491.724" y="96.588" style="fill: #ff0000; stroke: #ff0000; color: #ff0000"/>
<use href="#m27e02e70e5" x="493.74" y="97.02" style="fill: #ff0000; stroke: #ff0000; color: #ff0000"/>
<use href="#m27e02e70e5" x="498.024" y="93.672" style="fill: #ff0000; stroke: #ff0000; color: #ff0000"/>
<use href="#m27e02e70e5" x="501.624" y="71.244" style="fill: #ff0000; stroke: #ff0000; color: #ff0000"/>
<use href="#m27e02e70e5" x="503.676" y="71.244" style="fill: #ff0000; stroke: #ff0000; color: #ff0000"/>
</g>
</g>
<g id="patch_22">
<path d="M 311.22 105.192 L 311.22 2.592 " style="fill: none; stroke: #000000; stroke-width: 0.8; stroke-linejoin: miter; stroke-linecap: square"/>
</g>
<g id="patch_23">
<path d="M 508.068 105.192 L 508.068 2.592 " style="fill: none; stroke: #ff0000; stroke-width: 0.8; stroke-linejoin: miter; stroke-linecap: square"/>
</g>
<g id="patch_24">
<path d="M 311.22 105.192 L 508.068 105.192 " style="fill: none; stroke: #000000; stroke-width: 0.8; stroke-linejoin: miter; stroke-linecap: square"/>
</g>
<g id="patch_25">
<path d="M 311.22 2.592 L 508.068 2.592 " style="fill: none; stroke: #000000; stroke-width: 0.8; stroke-linejoin: miter; stroke-linecap: square"/>
</g>
</g>
<g id="axes_5">
<g id="patch_26">
<path d="M 45.756 275.4 L 239.112 275.4 L 239.112 165.492 L 45.756 165.492 z
" style="fill: #ffffff; color: #ffffff"/>
</g>
<g id="matplotlib.axis_8">
<g id="xtick_69">
<g id="line2d_275">
<g>
<use href="#m2b4970a3c0" x="50.976" y="275.4" style="stroke: #000000; stroke-width: 0.8"/>
</g>
</g>
<g id="line2d_276">
<g>
<use href="#m33ad5a67c3" x="50.976" y="165.492" style="stroke: #000000; stroke-width: 0.8"/>
</g>
</g>
<g id="text_27">
<text style="font-size: 10.500px; font-family: 'Liberation Sans'; text-anchor: middle" textLength="22.266" lengthAdjust="spacingAndGlyphs" x="50.976" y="286.498438" transform="rotate(-0 50.976 286.498438)">0.00</text>
</g>
</g>
<g id="xtick_70">
<g id="line2d_277">
<g>
<use href="#m2b4970a3c0" x="86.868" y="275.4" style="stroke: #000000; stroke-width: 0.8"/>
</g>
</g>
<g id="line2d_278">
<g>
<use href="#m33ad5a67c3" x="86.868" y="165.492" style="stroke: #000000; stroke-width: 0.8"/>
</g>
</g>
<g id="text_28">
<text style="font-size: 10.500px; font-family: 'Liberation Sans'; text-anchor: middle" textLength="22.266" lengthAdjust="spacingAndGlyphs" x="86.868" y="286.498438" transform="rotate(-0 86.868 286.498438)">0.05</text>
</g>
</g>
<g id="xtick_71">
<g id="line2d_279">
<g>
<use href="#m2b4970a3c0" x="122.76" y="275.4" style="stroke: #000000; stroke-width: 0.8"/>
</g>
</g>
<g id="line2d_280">
<g>
<use href="#m33ad5a67c3" x="122.76" y="165.492" style="stroke: #000000; stroke-width: 0.8"/>
</g>
</g>
<g id="text_29">
<text style="font-size: 10.500px; font-family: 'Liberation Sans'; text-anchor: middle" textLength="22.266" lengthAdjust="spacingAndGlyphs" x="122.76" y="286.498438" transform="rotate(-0 122.76 286.498438)">0.10</text>
</g>
</g>
<g id="xtick_72">
<g id="line2d_281">
<g>
<use href="#m2b4970a3c0" x="158.652" y="275.4" style="stroke: #000000; stroke-width: 0.8"/>
</g>
</g>
<g id="line2d_282">
<g>
<use href="#m33ad5a67c3" x="158.652" y="165.492" style="stroke: #000000; stroke-width: 0.8"/>
</g>
</g>
<g id="text_30">
<text style="font-size: 10.500px; font-family: 'Liberation Sans'; text-anchor: middle" textLength="22.266" lengthAdjust="spacingAndGlyphs" x="158.652" y="286.498438" transform="rotate(-0 158.652 286.498438)">0.15</text>
</g>
</g>
<g id="xtick_73">
<g id="line2d_283">
<g>
<use href="#m2b4970a3c0" x="194.544" y="275.4" style="stroke: #000000; stroke-width: 0.8"/>
</g>
</g>
<g id="line2d_284">
<g>
<use href="#m33ad5a67c3" x="194.544" y="165.492" style="stroke: #000000; stroke-width: 0.8"/>
</g>
</g>
<g id="text_31">
<text style="font-size: 10.500px; font-family: 'Liberation Sans'; text-anchor: middle" textLength="22.266" lengthAdjust="spacingAndGlyphs" x="194.544" y="286.498438" transform="rotate(-0 194.544 286.498438)">0.20</text>
</g>
</g>
<g id="xtick_74">
<g id="line2d_285">
<g>
<use href="#m2b4970a3c0" x="230.436" y="275.4" style="stroke: #000000; stroke-width: 0.8"/>
</g>
</g>
<g id="line2d_286">
<g>
<use href="#m33ad5a67c3" x="230.436" y="165.492" style="stroke: #000000; stroke-width: 0.8"/>
</g>
</g>
<g id="text_32">
<text style="font-size: 10.500px; font-family: 'Liberation Sans'; text-anchor: middle" textLength="22.266" lengthAdjust="spacingAndGlyphs" x="230.436" y="286.498438" transform="rotate(-0 230.436 286.498438)">0.25</text>
</g>
</g>
<g id="xtick_75">
<g id="line2d_287">
<g>
<use href="#mdb4b7853e7" x="58.1544" y="275.4" style="stroke: #000000; stroke-width: 0.6"/>
</g>
</g>
<g id="line2d_288">
<g>
<use href="#m0a208b328b" x="58.1544" y="165.492" style="stroke: #000000; stroke-width: 0.6"/>
</g>
</g>
</g>
<g id="xtick_76">
<g id="line2d_289">
<g>
<use href="#mdb4b7853e7" x="65.3328" y="275.4" style="stroke: #000000; stroke-width: 0.6"/>
</g>
</g>
<g id="line2d_290">
<g>
<use href="#m0a208b328b" x="65.3328" y="165.492" style="stroke: #000000; stroke-width: 0.6"/>
</g>
</g>
</g>
<g id="xtick_77">
<g id="line2d_291">
<g>
<use href="#mdb4b7853e7" x="72.5112" y="275.4" style="stroke: #000000; stroke-width: 0.6"/>
</g>
</g>
<g id="line2d_292">
<g>
<use href="#m0a208b328b" x="72.5112" y="165.492" style="stroke: #000000; stroke-width: 0.6"/>
</g>
</g>
</g>
<g id="xtick_78">
<g id="line2d_293">
<g>
<use href="#mdb4b7853e7" x="79.6896" y="275.4" style="stroke: #000000; stroke-width: 0.6"/>
</g>
</g>
<g id="line2d_294">
<g>
<use href="#m0a208b328b" x="79.6896" y="165.492" style="stroke: #000000; stroke-width: 0.6"/>
</g>
</g>
</g>
<g id="xtick_79">
<g id="line2d_295">
<g>
<use href="#mdb4b7853e7" x="94.0464" y="275.4" style="stroke: #000000; stroke-width: 0.6"/>
</g>
</g>
<g id="line2d_296">
<g>
<use href="#m0a208b328b" x="94.0464" y="165.492" style="stroke: #000000; stroke-width: 0.6"/>
</g>
</g>
</g>
<g id="xtick_80">
<g id="line2d_297">
<g>
<use href="#mdb4b7853e7" x="101.2248" y="275.4" style="stroke: #000000; stroke-width: 0.6"/>
</g>
</g>
<g id="line2d_298">
<g>
<use href="#m0a208b328b" x="101.2248" y="165.492" style="stroke: #000000; stroke-width: 0.6"/>
</g>
</g>
</g>
<g id="xtick_81">
<g id="line2d_299">
<g>
<use href="#mdb4b7853e7" x="108.4032" y="275.4" style="stroke: #000000; stroke-width: 0.6"/>
</g>
</g>
<g id="line2d_300">
<g>
<use href="#m0a208b328b" x="108.4032" y="165.492" style="stroke: #000000; stroke-width: 0.6"/>
</g>
</g>
</g>
<g id="xtick_82">
<g id="line2d_301">
<g>
<use href="#mdb4b7853e7" x="115.5816" y="275.4" style="stroke: #000000; stroke-width: 0.6"/>
</g>
</g>
<g id="line2d_302">
<g>
<use href="#m0a208b328b" x="115.5816" y="165.492" style="stroke: #000000; stroke-width: 0.6"/>
</g>
</g>
</g>
<g id="xtick_83">
<g id="line2d_303">
<g>
<use href="#mdb4b7853e7" x="129.9384" y="275.4" style="stroke: #000000; stroke-width: 0.6"/>
</g>
</g>
<g id="line2d_304">
<g>
<use href="#m0a208b328b" x="129.9384" y="165.492" style="stroke: #000000; stroke-width: 0.6"/>
</g>
</g>
</g>
<g id="xtick_84">
<g id="line2d_305">
<g>
<use href="#mdb4b7853e7" x="137.1168" y="275.4" style="stroke: #000000; stroke-width: 0.6"/>
</g>
</g>
<g id="line2d_306">
<g>
<use href="#m0a208b328b" x="137.1168" y="165.492" style="stroke: #000000; stroke-width: 0.6"/>
</g>
</g>
</g>
<g id="xtick_85">
<g id="line2d_307">
<g>
<use href="#mdb4b7853e7" x="144.2952" y="275.4" style="stroke: #000000; stroke-width: 0.6"/>
</g>
</g>
<g id="line2d_308">
<g>
<use href="#m0a208b328b" x="144.2952" y="165.492" style="stroke: #000000; stroke-width: 0.6"/>
</g>
</g>
</g>
<g id="xtick_86">
<g id="line2d_309">
<g>
<use href="#mdb4b7853e7" x="151.4736" y="275.4" style="stroke: #000000; stroke-width: 0.6"/>
</g>
</g>
<g id="line2d_310">
<g>
<use href="#m0a208b328b" x="151.4736" y="165.492" style="stroke: #000000; stroke-width: 0.6"/>
</g>
</g>
</g>
<g id="xtick_87">
<g id="line2d_311">
<g>
<use href="#mdb4b7853e7" x="165.8304" y="275.4" style="stroke: #000000; stroke-width: 0.6"/>
</g>
</g>
<g id="line2d_312">
<g>
<use href="#m0a208b328b" x="165.8304" y="165.492" style="stroke: #000000; stroke-width: 0.6"/>
</g>
</g>
</g>
<g id="xtick_88">
<g id="line2d_313">
<g>
<use href="#mdb4b7853e7" x="173.0088" y="275.4" style="stroke: #000000; stroke-width: 0.6"/>
</g>
</g>
<g id="line2d_314">
<g>
<use href="#m0a208b328b" x="173.0088" y="165.492" style="stroke: #000000; stroke-width: 0.6"/>
</g>
</g>
</g>
<g id="xtick_89">
<g id="line2d_315">
<g>
<use href="#mdb4b7853e7" x="180.1872" y="275.4" style="stroke: #000000; stroke-width: 0.6"/>
</g>
</g>
<g id="line2d_316">
<g>
<use href="#m0a208b328b" x="180.1872" y="165.492" style="stroke: #000000; stroke-width: 0.6"/>
</g>
</g>
</g>
<g id="xtick_90">
<g id="line2d_317">
<g>
<use href="#mdb4b7853e7" x="187.3656" y="275.4" style="stroke: #000000; stroke-width: 0.6"/>
</g>
</g>
<g id="line2d_318">
<g>
<use href="#m0a208b328b" x="187.3656" y="165.492" style="stroke: #000000; stroke-width: 0.6"/>
</g>
</g>
</g>
<g id="xtick_91">
<g id="line2d_319">
<g>
<use href="#mdb4b7853e7" x="201.7224" y="275.4" style="stroke: #000000; stroke-width: 0.6"/>
</g>
</g>
<g id="line2d_320">
<g>
<use href="#m0a208b328b" x="201.7224" y="165.492" style="stroke: #000000; stroke-width: 0.6"/>
</g>
</g>
</g>
<g id="xtick_92">
<g id="line2d_321">
<g>
<use href="#mdb4b7853e7" x="208.9008" y="275.4" style="stroke: #000000; stroke-width: 0.6"/>
</g>
</g>
<g id="line2d_322">
<g>
<use href="#m0a208b328b" x="208.9008" y="165.492" style="stroke: #000000; stroke-width: 0.6"/>
</g>
</g>
</g>
<g id="xtick_93">
<g id="line2d_323">
<g>
<use href="#mdb4b7853e7" x="216.0792" y="275.4" style="stroke: #000000; stroke-width: 0.6"/>
</g>
</g>
<g id="line2d_324">
<g>
<use href="#m0a208b328b" x="216.0792" y="165.492" style="stroke: #000000; stroke-width: 0.6"/>
</g>
</g>
</g>
<g id="xtick_94">
<g id="line2d_325">
<g>
<use href="#mdb4b7853e7" x="223.2576" y="275.4" style="stroke: #000000; stroke-width: 0.6"/>
</g>
</g>
<g id="line2d_326">
<g>
<use href="#m0a208b328b" x="223.2576" y="165.492" style="stroke: #000000; stroke-width: 0.6"/>
</g>
</g>
</g>
<g id="xtick_95">
<g id="line2d_327">
<g>
<use href="#mdb4b7853e7" x="237.6144" y="275.4" style="stroke: #000000; stroke-width: 0.6"/>
</g>
</g>
<g id="line2d_328">
<g>
<use href="#m0a208b328b" x="237.6144" y="165.492" style="stroke: #000000; stroke-width: 0.6"/>
</g>
</g>
</g>
<g id="xlab_c" transform="translate(0.468 -0.468)">
<g transform="translate(48.294 301.938125) scale(0.9910 1)">
<text>
<tspan x="0" y="-0.076563" style="font-size: 10.500px; font-family: 'Liberation Sans'" textLength="6.348" lengthAdjust="spacingAndGlyphs">S</tspan>
<tspan x="6.347656" y="-0.076563" style="font-size: 10.500px; font-family: 'Liberation Sans'" textLength="6.152" lengthAdjust="spacingAndGlyphs">e</tspan>
<tspan x="12.5" y="-0.076563" style="font-size: 10.500px; font-family: 'Liberation Sans'" textLength="9.741" lengthAdjust="spacingAndGlyphs">m</tspan>
<tspan x="22.241211" y="-0.076563" style="font-size: 10.500px; font-family: 'Liberation Sans'" textLength="2.778" lengthAdjust="spacingAndGlyphs">i</tspan>
<tspan x="25.019531" y="-0.076563" style="font-size: 10.500px; font-family: 'Liberation Sans'" textLength="3.608" lengthAdjust="spacingAndGlyphs">-</tspan>
<tspan x="28.62793" y="-0.076563" style="font-size: 10.500px; font-family: 'Liberation Sans'" textLength="6.128" lengthAdjust="spacingAndGlyphs">a</tspan>
<tspan x="34.755859" y="-0.076563" style="font-size: 10.500px; font-family: 'Liberation Sans'" textLength="5.918" lengthAdjust="spacingAndGlyphs">x</tspan>
<tspan x="40.673828" y="-0.076563" style="font-size: 10.500px; font-family: 'Liberation Sans'" textLength="2.778" lengthAdjust="spacingAndGlyphs">i</tspan>
<tspan x="43.452148" y="-0.076563" style="font-size: 10.500px; font-family: 'Liberation Sans'" textLength="5.210" lengthAdjust="spacingAndGlyphs">s</tspan>
<tspan x="48.662109" y="-0.076563" style="font-size: 10.500px; font-family: 'Liberation Sans'"> </tspan>
<tspan x="51.84082" y="-0.076563" style="font-size: 10.500px; font-family: 'Liberation Sans'" textLength="5.210" lengthAdjust="spacingAndGlyphs">s</tspan>
<tspan x="57.050781" y="-0.076563" style="font-size: 10.500px; font-family: 'Liberation Sans'" textLength="6.348" lengthAdjust="spacingAndGlyphs">p</tspan>
<tspan x="63.398438" y="-0.076563" style="font-size: 10.500px; font-family: 'Liberation Sans'" textLength="2.778" lengthAdjust="spacingAndGlyphs">l</tspan>
<tspan x="66.176758" y="-0.076563" style="font-size: 10.500px; font-family: 'Liberation Sans'" textLength="2.778" lengthAdjust="spacingAndGlyphs">i</tspan>
<tspan x="68.955078" y="-0.076563" style="font-size: 10.500px; font-family: 'Liberation Sans'" textLength="3.921" lengthAdjust="spacingAndGlyphs">t</tspan>
<tspan x="72.875977" y="-0.076563" style="font-size: 10.500px; font-family: 'Liberation Sans'" textLength="3.921" lengthAdjust="spacingAndGlyphs">t</tspan>
<tspan x="76.796875" y="-0.076563" style="font-size: 10.500px; font-family: 'Liberation Sans'" textLength="2.778" lengthAdjust="spacingAndGlyphs">i</tspan>
<tspan x="79.575195" y="-0.076563" style="font-size: 10.500px; font-family: 'Liberation Sans'" textLength="6.338" lengthAdjust="spacingAndGlyphs">n</tspan>
<tspan x="85.913086" y="-0.076563" style="font-size: 10.500px; font-family: 'Liberation Sans'" textLength="6.348" lengthAdjust="spacingAndGlyphs">g</tspan>
<tspan x="92.260742" y="-0.076563" style="font-size: 10.500px; font-family: 'Liberation Sans'"> </tspan>
<tspan x="95.439453" y="-0.076563" style="font-size: 10.500px; font-family: 'Liberation Sans'" textLength="6.362" lengthAdjust="spacingAndGlyphs">1</tspan>
<tspan x="101.801758" y="-0.076563" style="font-size: 10.500px; font-family: 'Liberation Sans'" textLength="3.369" lengthAdjust="spacingAndGlyphs">/</tspan>
<tspan x="118.439111" y="-0.076563" style="font-size: 10.500px; font-family: 'Liberation Sans'" textLength="8.379" lengthAdjust="spacingAndGlyphs">−</tspan>
<tspan x="128.766259" y="-0.076563" style="font-size: 10.500px; font-family: 'Liberation Sans'" textLength="6.362" lengthAdjust="spacingAndGlyphs">1</tspan>
<tspan x="135.128564" y="-0.076563" style="font-size: 10.500px; font-family: 'Liberation Sans'" textLength="3.369" lengthAdjust="spacingAndGlyphs">/</tspan>
<tspan x="150.317182" y="-0.076563" style="font-size: 10.500px; font-family: 'Liberation Sans'"> </tspan>
<tspan x="153.495893" y="-0.076563" style="font-size: 10.500px; font-family: 'Liberation Sans'" textLength="3.901" lengthAdjust="spacingAndGlyphs">(</tspan>
<tspan x="157.39726" y="-0.076563" style="font-size: 10.500px; font-family: 'Liberation Sans'" textLength="6.362" lengthAdjust="spacingAndGlyphs">µ</tspan>
<tspan x="163.759565" y="-0.076563" style="font-size: 10.500px; font-family: 'Liberation Sans'" textLength="9.741" lengthAdjust="spacingAndGlyphs">m</tspan>
<tspan x="184.188764" y="-0.076563" style="font-size: 10.500px; font-family: 'Liberation Sans'" textLength="3.901" lengthAdjust="spacingAndGlyphs">)</tspan>
<tspan x="105.170898" y="-0.076563" style="font-style: italic; font-size: 10.500px; font-family: 'Liberation Sans'" textLength="6.128" lengthAdjust="spacingAndGlyphs">a</tspan>
<tspan x="138.497704" y="-0.076563" style="font-style: italic; font-size: 10.500px; font-family: 'Liberation Sans'" textLength="6.348" lengthAdjust="spacingAndGlyphs">b</tspan>
<tspan x="111.763818" y="-3.904688" style="font-size: 7.350px; font-family: 'Liberation Sans'" textLength="4.454" lengthAdjust="spacingAndGlyphs">2</tspan>
<tspan x="145.590132" y="-3.904688" style="font-size: 7.350px; font-family: 'Liberation Sans'" textLength="4.454" lengthAdjust="spacingAndGlyphs">2</tspan>
<tspan x="173.596479" y="-3.904688" style="font-size: 7.350px; font-family: 'Liberation Sans'" textLength="5.865" lengthAdjust="spacingAndGlyphs">−</tspan>
<tspan x="179.461714" y="-3.904688" style="font-size: 7.350px; font-family: 'Liberation Sans'" textLength="4.454" lengthAdjust="spacingAndGlyphs">2</tspan>
</text>
</g>
</g>
</g>
<g id="matplotlib.axis_9">
<g id="ytick_92">
<g id="line2d_329">
<g>
<use href="#m90c7cc0374" x="45.756" y="271.98" style="stroke: #000000; stroke-width: 0.8"/>
</g>
</g>
<g id="line2d_330">
<g>
<use href="#m5c0d456e2d" x="239.112" y="271.98" style="stroke: #000000; stroke-width: 0.8"/>
</g>
</g>
<g id="text_33">
<text style="font-size: 10.500px; font-family: 'Liberation Sans'; text-anchor: end" textLength="6.362" lengthAdjust="spacingAndGlyphs" x="42.256" y="275.779219" transform="rotate(-0 42.256 275.779219)">0</text>
</g>
</g>
<g id="ytick_93">
<g id="line2d_331">
<g>
<use href="#m90c7cc0374" x="45.756" y="235.404" style="stroke: #000000; stroke-width: 0.8"/>
</g>
</g>
<g id="line2d_332">
<g>
<use href="#m5c0d456e2d" x="239.112" y="235.404" style="stroke: #000000; stroke-width: 0.8"/>
</g>
</g>
<g id="text_34">
<text style="font-size: 10.500px; font-family: 'Liberation Sans'; text-anchor: end" textLength="19.087" lengthAdjust="spacingAndGlyphs" x="42.256" y="239.203219" transform="rotate(-0 42.256 239.203219)">200</text>
</g>
</g>
<g id="ytick_94">
<g id="line2d_333">
<g>
<use href="#m90c7cc0374" x="45.756" y="198.828" style="stroke: #000000; stroke-width: 0.8"/>
</g>
</g>
<g id="line2d_334">
<g>
<use href="#m5c0d456e2d" x="239.112" y="198.828" style="stroke: #000000; stroke-width: 0.8"/>
</g>
</g>
<g id="text_35">
<text style="font-size: 10.500px; font-family: 'Liberation Sans'; text-anchor: end" textLength="19.087" lengthAdjust="spacingAndGlyphs" x="42.256" y="202.627219" transform="rotate(-0 42.256 202.627219)">400</text>
</g>
</g>
<g id="ytick_95">
<g id="line2d_335">
<g>
<use href="#m56da8a8c78" x="45.756" y="262.836" style="stroke: #000000; stroke-width: 0.6"/>
</g>
</g>
<g id="line2d_336">
<g>
<use href="#m1119887b76" x="239.112" y="262.836" style="stroke: #000000; stroke-width: 0.6"/>
</g>
</g>
</g>
<g id="ytick_96">
<g id="line2d_337">
<g>
<use href="#m56da8a8c78" x="45.756" y="253.692" style="stroke: #000000; stroke-width: 0.6"/>
</g>
</g>
<g id="line2d_338">
<g>
<use href="#m1119887b76" x="239.112" y="253.692" style="stroke: #000000; stroke-width: 0.6"/>
</g>
</g>
</g>
<g id="ytick_97">
<g id="line2d_339">
<g>
<use href="#m56da8a8c78" x="45.756" y="244.548" style="stroke: #000000; stroke-width: 0.6"/>
</g>
</g>
<g id="line2d_340">
<g>
<use href="#m1119887b76" x="239.112" y="244.548" style="stroke: #000000; stroke-width: 0.6"/>
</g>
</g>
</g>
<g id="ytick_98">
<g id="line2d_341">
<g>
<use href="#m56da8a8c78" x="45.756" y="226.26" style="stroke: #000000; stroke-width: 0.6"/>
</g>
</g>
<g id="line2d_342">
<g>
<use href="#m1119887b76" x="239.112" y="226.26" style="stroke: #000000; stroke-width: 0.6"/>
</g>
</g>
</g>
<g id="ytick_99">
<g id="line2d_343">
<g>
<use href="#m56da8a8c78" x="45.756" y="217.116" style="stroke: #000000; stroke-width: 0.6"/>
</g>
</g>
<g id="line2d_344">
<g>
<use href="#m1119887b76" x="239.112" y="217.116" style="stroke: #000000; stroke-width: 0.6"/>
</g>
</g>
</g>
<g id="ytick_100">
<g id="line2d_345">
<g>
<use href="#m56da8a8c78" x="45.756" y="207.972" style="stroke: #000000; stroke-width: 0.6"/>
</g>
</g>
<g id="line2d_346">
<g>
<use href="#m1119887b76" x="239.112" y="207.972" style="stroke: #000000; stroke-width: 0.6"/>
</g>
</g>
</g>
<g id="ytick_101">
<g id="line2d_347">
<g>
<use href="#m56da8a8c78" x="45.756" y="189.684" style="stroke: #000000; stroke-width: 0.6"/>
</g>
</g>
<g id="line2d_348">
<g>
<use href="#m1119887b76" x="239.112" y="189.684" style="stroke: #000000; stroke-width: 0.6"/>
</g>
</g>
</g>
<g id="ytick_102">
<g id="line2d_349">
<g>
<use href="#m56da8a8c78" x="45.756" y="180.54" style="stroke: #000000; stroke-width: 0.6"/>
</g>
</g>
<g id="line2d_350">
<g>
<use href="#m1119887b76" x="239.112" y="180.54" style="stroke: #000000; stroke-width: 0.6"/>
</g>
</g>
</g>
<g id="ytick_103">
<g id="line2d_351">
<g>
<use href="#m56da8a8c78" x="45.756" y="171.396" style="stroke: #000000; stroke-width: 0.6"/>
</g>
</g>
<g id="line2d_352">
<g>
<use href="#m1119887b76" x="239.112" y="171.396" style="stroke: #000000; stroke-width: 0.6"/>
</g>
</g>
</g>
<g id="ylab_c" transform="translate(-0.828 0.324)">
<text style="font-size: 10.500px; font-family: 'Liberation Sans'; text-anchor: middle" textLength="106.099" lengthAdjust="spacingAndGlyphs" x="17.088812" y="220.446" transform="rotate(-90 17.088812 220.446)">LP H-V splitting (µeV)</text>
</g>
</g>
<g id="line2d_353">
<path d="M 54.54 269.784 L 230.508 170.46 " clip-path="url(#paa8637d300)" style="fill: none; stroke: #ff0000; stroke-width: 1.5; stroke-linecap: square"/>
</g>
<g id="line2d_354">
<g clip-path="url(#paa8637d300)">
<use href="#m25b837ac0a" x="54.72" y="268.344" style="stroke: #000000"/>
<use href="#m25b837ac0a" x="56.808" y="270.828" style="stroke: #000000"/>
<use href="#m25b837ac0a" x="62.568" y="260.208" style="stroke: #000000"/>
<use href="#m25b837ac0a" x="65.628" y="251.208" style="stroke: #000000"/>
<use href="#m25b837ac0a" x="69.84" y="263.124" style="stroke: #000000"/>
<use href="#m25b837ac0a" x="74.088" y="245.592" style="stroke: #000000"/>
<use href="#m25b837ac0a" x="80.244" y="247.608" style="stroke: #000000"/>
<use href="#m25b837ac0a" x="88.704" y="238.536" style="stroke: #000000"/>
<use href="#m25b837ac0a" x="99.432" y="236.628" style="stroke: #000000"/>
<use href="#m25b837ac0a" x="113.652" y="232.992" style="stroke: #000000"/>
<use href="#m25b837ac0a" x="120.348" y="223.776" style="stroke: #000000"/>
<use href="#m25b837ac0a" x="121.356" y="231.228" style="stroke: #000000"/>
<use href="#m25b837ac0a" x="142.416" y="222.12" style="stroke: #000000"/>
<use href="#m25b837ac0a" x="150.264" y="214.812" style="stroke: #000000"/>
<use href="#m25b837ac0a" x="170.244" y="218.484" style="stroke: #000000"/>
<use href="#m25b837ac0a" x="174.564" y="198.288" style="stroke: #000000"/>
<use href="#m25b837ac0a" x="180.252" y="203.868" style="stroke: #000000"/>
<use href="#m25b837ac0a" x="182.556" y="209.412" style="stroke: #000000"/>
<use href="#m25b837ac0a" x="221.976" y="183.816" style="stroke: #000000"/>
<use href="#m25b837ac0a" x="225.684" y="172.908" style="stroke: #000000"/>
</g>
</g>
<g id="patch_27">
<path d="M 45.756 275.4 L 45.756 165.492 " style="fill: none; stroke: #000000; stroke-width: 0.8; stroke-linejoin: miter; stroke-linecap: square"/>
</g>
<g id="patch_28">
<path d="M 239.112 275.4 L 239.112 165.492 " style="fill: none; stroke: #000000; stroke-width: 0.8; stroke-linejoin: miter; stroke-linecap: square"/>
</g>
<g id="patch_29">
<path d="M 45.756 275.4 L 239.112 275.4 " style="fill: none; stroke: #000000; stroke-width: 0.8; stroke-linejoin: miter; stroke-linecap: square"/>
</g>
<g id="patch_30">
<path d="M 45.756 165.492 L 239.112 165.492 " style="fill: none; stroke: #000000; stroke-width: 0.8; stroke-linejoin: miter; stroke-linecap: square"/>
</g>
<g id="legend_4">
<g id="patch_31">
<path d="M 52.756 193.409813 L 148.236 193.409813 Q 150.236 193.409813 150.236 191.409813 L 150.236 172.492 Q 150.236 170.492 148.236 170.492 L 52.756 170.492 Q 50.756 170.492 50.756 172.492 L 50.756 191.409813 Q 50.756 193.409813 52.756 193.409813 z
" style="fill: #ffffff; fill-opacity: 0.8; stroke-opacity: 0.8; stroke: #cccccc; stroke-linejoin: miter; color: #ffffff"/>
</g>
<g id="line2d_355">
<g>
<use href="#m25b837ac0a" x="61.756" y="182.250125" style="stroke: #000000"/>
</g>
</g>
<g id="text_36">
<g transform="translate(79.756 179.132313) scale(0.9910 1)">
<text>
<tspan x="0" y="-0.001563" style="font-size: 10.500px; font-family: 'Liberation Sans'" textLength="6.841" lengthAdjust="spacingAndGlyphs">Δ</tspan>
<tspan x="13.15918" y="-0.001563" style="font-size: 10.500px; font-family: 'Liberation Sans'"> </tspan>
<tspan x="16.337891" y="-0.001563" style="font-size: 10.500px; font-family: 'Liberation Sans'" textLength="10.000" lengthAdjust="spacingAndGlyphs">@</tspan>
<tspan x="26.337891" y="-0.001563" style="font-size: 10.500px; font-family: 'Liberation Sans'" textLength="6.362" lengthAdjust="spacingAndGlyphs">5</tspan>
<tspan x="32.700195" y="-0.001563" style="font-size: 10.500px; font-family: 'Liberation Sans'" textLength="9.502" lengthAdjust="spacingAndGlyphs">%</tspan>
<tspan x="42.202148" y="-0.001563" style="font-size: 10.500px; font-family: 'Liberation Sans'"> </tspan>
<tspan x="45.380859" y="-0.001563" style="font-size: 10.500px; font-family: 'Liberation Sans'" textLength="6.152" lengthAdjust="spacingAndGlyphs">e</tspan>
<tspan x="51.533203" y="-0.001563" style="font-size: 10.500px; font-family: 'Liberation Sans'" textLength="5.918" lengthAdjust="spacingAndGlyphs">x</tspan>
<tspan x="57.451172" y="-0.001563" style="font-size: 10.500px; font-family: 'Liberation Sans'" textLength="5.498" lengthAdjust="spacingAndGlyphs">c</tspan>
<tspan x="62.949219" y="-0.001563" style="font-size: 10.500px; font-family: 'Liberation Sans'" textLength="2.778" lengthAdjust="spacingAndGlyphs">i</tspan>
<tspan x="65.727539" y="-0.001563" style="font-size: 10.500px; font-family: 'Liberation Sans'" textLength="3.608" lengthAdjust="spacingAndGlyphs">-</tspan>
<tspan x="6.84082" y="-0.001563" style="font-style: italic; font-size: 10.500px; font-family: 'Liberation Sans'" textLength="6.318" lengthAdjust="spacingAndGlyphs">E</tspan>
</text>
</g>
<text style="font-size: 10.500px; font-family: 'Liberation Sans'" textLength="66.245" lengthAdjust="spacingAndGlyphs" transform="translate(79.756 190.330125)">tonic fraction</text>
</g>
</g>
</g>
<g id="patch_32">
<path d="M 317.304 93.708 L 325.656 91.26 L 325.656 92.592 L 342.252 92.592 L 342.252 94.824 L 325.656 94.824 L 325.656 96.156 z
"/>
</g>
<g id="patch_33">
<path d="M 504.144 84.888 L 497.232 81.936 L 497.232 84.24 L 491.112 84.24 L 491.112 85.536 L 497.232 85.536 L 497.232 87.84 z
" style="fill: #ff0000; color: #ff0000"/>
</g>
<g id="lab_a">
<text style="font-weight: 700; font-size: 10.500px; font-family: 'Liberation Sans'; text-anchor: start" textLength="6.748" lengthAdjust="spacingAndGlyphs" x="1.728" y="5.544" transform="rotate(-0 1.728 5.544)">a</text>
</g>
<g id="lab_b">
<text style="font-weight: 700; font-size: 10.500px; font-family: 'Liberation Sans'; text-anchor: start" textLength="7.158" lengthAdjust="spacingAndGlyphs" x="271.512" y="10.764" transform="rotate(-0 271.512 10.764)">b</text>
</g>
<g id="lab_c" transform="translate(0.360 0.324)">
<text style="font-weight: 700; font-size: 10.500px; font-family: 'Liberation Sans'; text-anchor: start" textLength="5.928" lengthAdjust="spacingAndGlyphs" x="4.32" y="164.988" transform="rotate(-0 4.32 164.988)">c</text>
</g>
</g>
<defs>
<clipPath id="p38f2d5e0b5">
<rect x="45.792" y="1.944" width="196.812" height="116.064"/>
</clipPath>
<clipPath id="pccb7312ba0">
<rect x="311.22" y="2.592" width="196.848" height="102.6"/>
</clipPath>
<clipPath id="p6dec215f47">
<rect x="311.22" y="112.284" width="196.848" height="41.148"/>
</clipPath>
<clipPath id="paa8637d300">
<rect x="45.756" y="165.492" width="193.356" height="109.908"/>
</clipPath>
</defs>
</svg>
</body></html>
